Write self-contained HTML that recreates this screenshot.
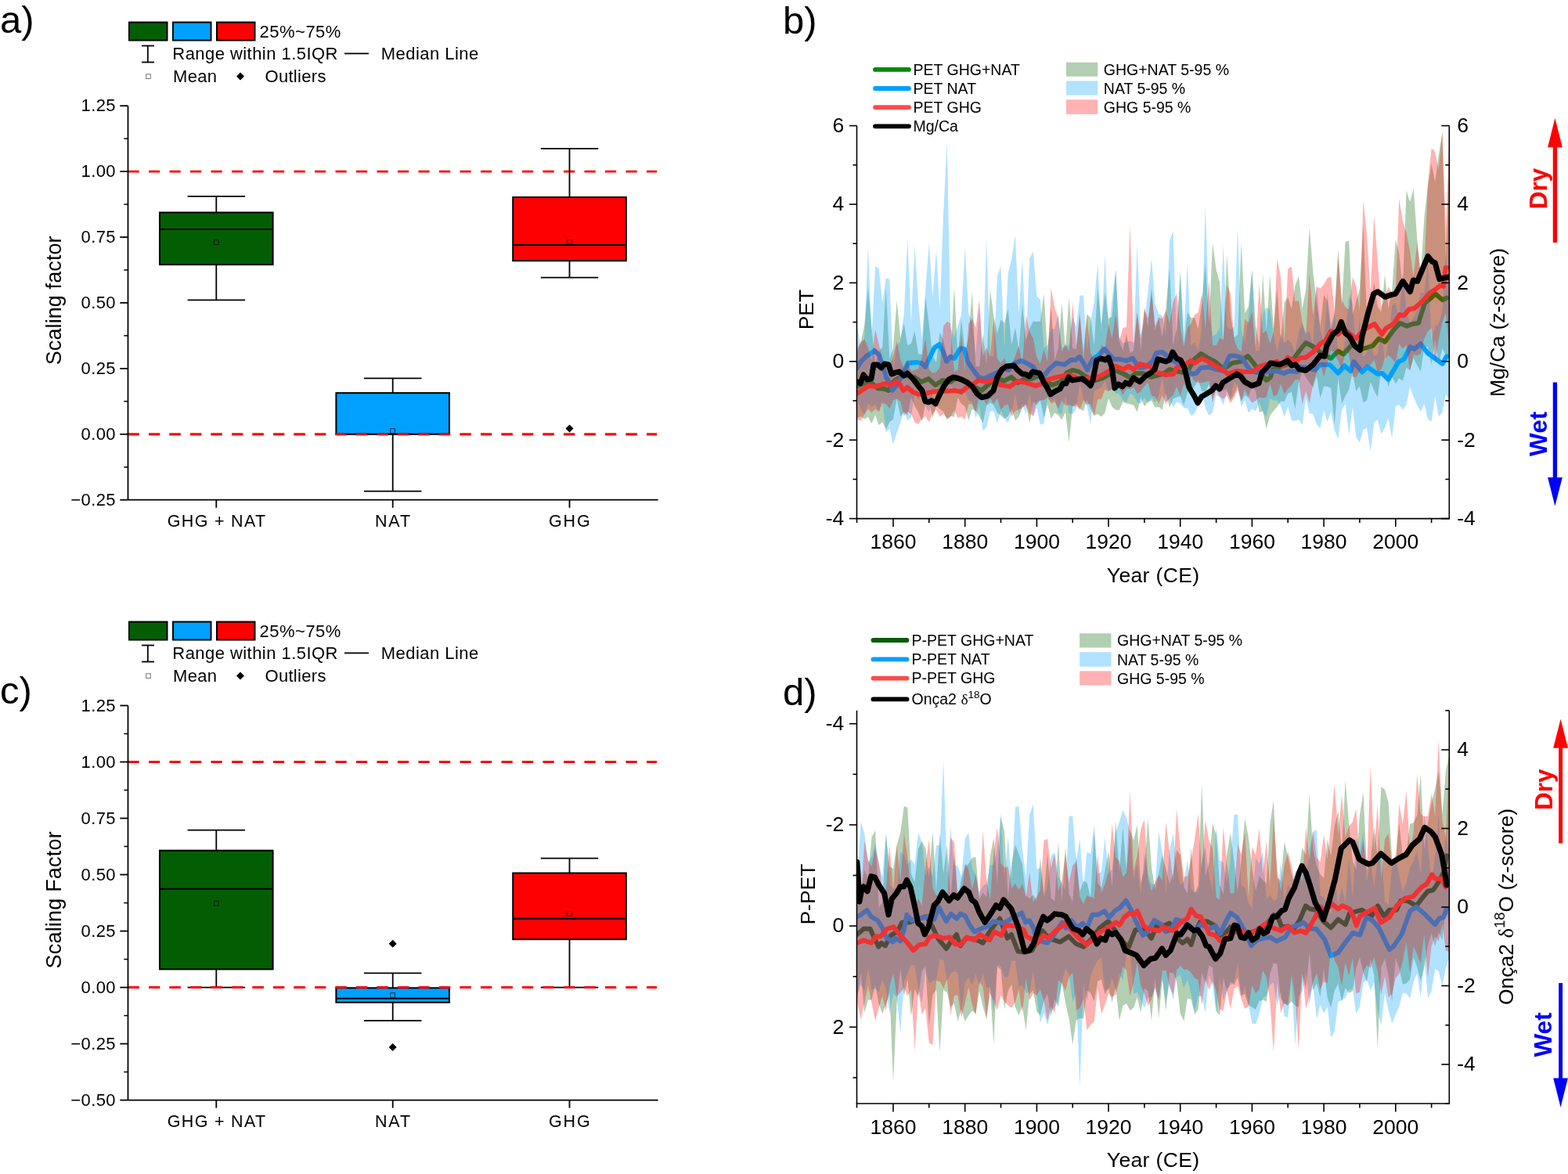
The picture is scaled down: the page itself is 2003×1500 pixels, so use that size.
<!DOCTYPE html>
<html><head><meta charset="utf-8"><title>Figure</title><style>html,body{margin:0;padding:0;background:#fff;width:2003px;height:1500px;overflow:hidden}</style></head><body>
<svg width="2003" height="1500" viewBox="0 0 2003 1500" style="position:absolute;left:0;top:0">
<g font-family='"Liberation Sans", Arial, Helvetica, sans-serif'>
<rect x="165" y="28.5" width="48.5" height="23" fill="#035e03" stroke="#000" stroke-width="2"/>
<rect x="221" y="28.5" width="48.5" height="23" fill="#00a0ff" stroke="#000" stroke-width="2"/>
<rect x="277" y="28.5" width="48.5" height="23" fill="#ff0000" stroke="#000" stroke-width="2"/>
<text x="331.5" y="47.6" font-size="22" text-anchor="start" font-weight="normal" fill="#000" letter-spacing="0.5" >25%~75%</text>
<line x1="188.8" y1="58.5" x2="188.8" y2="79.5" stroke="#000" stroke-width="1.8" />
<line x1="181.0" y1="58.5" x2="197.0" y2="58.5" stroke="#000" stroke-width="1.8" />
<line x1="181.0" y1="79.5" x2="197.0" y2="79.5" stroke="#000" stroke-width="1.8" />
<text x="220.3" y="76.0" font-size="22" text-anchor="start" font-weight="normal" fill="#000" letter-spacing="0.45" >Range within 1.5IQR</text>
<line x1="440.0" y1="68.4" x2="471.0" y2="68.4" stroke="#000" stroke-width="1.8" />
<text x="486.8" y="76.0" font-size="22" text-anchor="start" font-weight="normal" fill="#000" letter-spacing="0.45" >Median Line</text>
<rect x="186.7" y="94.8" width="5.6" height="5.6" fill="none" stroke="#666" stroke-width="0.9"/>
<path d="M307 92.5 L312 97.5 L307 102.5 L302 97.5 Z" fill="#000"/>
<text x="221.0" y="105.1" font-size="22" text-anchor="start" font-weight="normal" fill="#000" letter-spacing="0.3" >Mean</text>
<text x="338.5" y="105.1" font-size="22" text-anchor="start" font-weight="normal" fill="#000" letter-spacing="0.3" >Outliers</text>
<text x="0.0" y="42.0" font-size="49" text-anchor="start" font-weight="normal" fill="#000" >a)</text>
<line x1="163.5" y1="219.1" x2="839" y2="219.1" stroke="#ff0000" stroke-width="2.8" stroke-dasharray="14.2 12.3"/>
<line x1="163.5" y1="554.8" x2="839" y2="554.8" stroke="#ff0000" stroke-width="2.8" stroke-dasharray="14.2 12.3"/>
<line x1="276.3" y1="250.8" x2="276.3" y2="271.5" stroke="#000" stroke-width="1.8" />
<line x1="276.3" y1="338.1" x2="276.3" y2="383.3" stroke="#000" stroke-width="1.8" />
<line x1="239.6" y1="250.8" x2="313.1" y2="250.8" stroke="#000" stroke-width="1.8" />
<line x1="239.6" y1="383.3" x2="313.1" y2="383.3" stroke="#000" stroke-width="1.8" />
<rect x="204.0" y="271.5" width="144.6" height="66.6" fill="#035e03" stroke="#000" stroke-width="2"/>
<line x1="204.0" y1="293.0" x2="348.6" y2="293.0" stroke="#000" stroke-width="2" />
<rect x="273.4" y="306.8" width="5.8" height="5.8" fill="none" stroke="#101010" stroke-width="0.8"/>
<line x1="501.7" y1="483.3" x2="501.7" y2="502.1" stroke="#000" stroke-width="1.8" />
<line x1="501.7" y1="554.8" x2="501.7" y2="627.6" stroke="#000" stroke-width="1.8" />
<line x1="464.9" y1="483.3" x2="538.5" y2="483.3" stroke="#000" stroke-width="1.8" />
<line x1="464.9" y1="627.6" x2="538.5" y2="627.6" stroke="#000" stroke-width="1.8" />
<rect x="429.4" y="502.1" width="144.6" height="52.7" fill="#00a0ff" stroke="#000" stroke-width="2"/>
<line x1="429.4" y1="554.8" x2="574.0" y2="554.8" stroke="#000" stroke-width="2" />
<rect x="498.8" y="547.7" width="5.8" height="5.8" fill="none" stroke="#101010" stroke-width="0.8"/>
<line x1="727.5" y1="189.9" x2="727.5" y2="252.0" stroke="#000" stroke-width="1.8" />
<line x1="727.5" y1="333.2" x2="727.5" y2="354.7" stroke="#000" stroke-width="1.8" />
<line x1="690.8" y1="189.9" x2="764.2" y2="189.9" stroke="#000" stroke-width="1.8" />
<line x1="690.8" y1="354.7" x2="764.2" y2="354.7" stroke="#000" stroke-width="1.8" />
<rect x="655.2" y="252.0" width="144.6" height="81.2" fill="#ff0000" stroke="#000" stroke-width="2"/>
<line x1="655.2" y1="313.1" x2="799.8" y2="313.1" stroke="#000" stroke-width="2" />
<rect x="724.6" y="306.2" width="5.8" height="5.8" fill="none" stroke="#101010" stroke-width="0.8"/>
<path d="M727.5 542.5 L732.5 547.5 L727.5 552.5 L722.5 547.5 Z" fill="#000"/>
<line x1="163.5" y1="554.8" x2="839" y2="554.8" stroke="#ff0000" stroke-width="2.8" stroke-dasharray="14.2 12.3"/>
<line x1="163.5" y1="135.2" x2="163.5" y2="638.7" stroke="#000" stroke-width="1.8" />
<line x1="163.5" y1="638.7" x2="840.6" y2="638.7" stroke="#000" stroke-width="1.8" />
<line x1="153.3" y1="135.2" x2="163.5" y2="135.2" stroke="#000" stroke-width="1.8" />
<text x="148.0" y="142.4" font-size="22" text-anchor="end" font-weight="normal" fill="#000" letter-spacing="0.4" >1.25</text>
<line x1="153.3" y1="219.1" x2="163.5" y2="219.1" stroke="#000" stroke-width="1.8" />
<text x="148.0" y="226.3" font-size="22" text-anchor="end" font-weight="normal" fill="#000" letter-spacing="0.4" >1.00</text>
<line x1="153.3" y1="303.0" x2="163.5" y2="303.0" stroke="#000" stroke-width="1.8" />
<text x="148.0" y="310.2" font-size="22" text-anchor="end" font-weight="normal" fill="#000" letter-spacing="0.4" >0.75</text>
<line x1="153.3" y1="386.9" x2="163.5" y2="386.9" stroke="#000" stroke-width="1.8" />
<text x="148.0" y="394.1" font-size="22" text-anchor="end" font-weight="normal" fill="#000" letter-spacing="0.4" >0.50</text>
<line x1="153.3" y1="470.9" x2="163.5" y2="470.9" stroke="#000" stroke-width="1.8" />
<text x="148.0" y="478.1" font-size="22" text-anchor="end" font-weight="normal" fill="#000" letter-spacing="0.4" >0.25</text>
<line x1="153.3" y1="554.8" x2="163.5" y2="554.8" stroke="#000" stroke-width="1.8" />
<text x="148.0" y="562.0" font-size="22" text-anchor="end" font-weight="normal" fill="#000" letter-spacing="0.4" >0.00</text>
<line x1="153.3" y1="638.7" x2="163.5" y2="638.7" stroke="#000" stroke-width="1.8" />
<text x="148.0" y="645.9" font-size="22" text-anchor="end" font-weight="normal" fill="#000" letter-spacing="0.4" >−0.25</text>
<line x1="158.3" y1="177.1" x2="163.5" y2="177.1" stroke="#000" stroke-width="1.5" />
<line x1="158.3" y1="261.1" x2="163.5" y2="261.1" stroke="#000" stroke-width="1.5" />
<line x1="158.3" y1="345.0" x2="163.5" y2="345.0" stroke="#000" stroke-width="1.5" />
<line x1="158.3" y1="428.9" x2="163.5" y2="428.9" stroke="#000" stroke-width="1.5" />
<line x1="158.3" y1="512.8" x2="163.5" y2="512.8" stroke="#000" stroke-width="1.5" />
<line x1="158.3" y1="596.8" x2="163.5" y2="596.8" stroke="#000" stroke-width="1.5" />
<line x1="276.3" y1="638.7" x2="276.3" y2="648.7" stroke="#000" stroke-width="1.8" />
<text x="277.1" y="672.7" font-size="21.5" text-anchor="middle" font-weight="normal" fill="#000" letter-spacing="1.3" >GHG + NAT</text>
<line x1="501.7" y1="638.7" x2="501.7" y2="648.7" stroke="#000" stroke-width="1.8" />
<text x="502.5" y="672.7" font-size="21.5" text-anchor="middle" font-weight="normal" fill="#000" letter-spacing="1.9" >NAT</text>
<line x1="727.5" y1="638.7" x2="727.5" y2="648.7" stroke="#000" stroke-width="1.8" />
<text x="728.3" y="672.7" font-size="21.5" text-anchor="middle" font-weight="normal" fill="#000" letter-spacing="1.9" >GHG</text>
<text transform="translate(78,383.8) rotate(-90)" x="0" y="0" font-size="27" text-anchor="middle" letter-spacing="0.1">Scaling factor</text>
<rect x="165" y="794.5" width="48.5" height="23" fill="#035e03" stroke="#000" stroke-width="2"/>
<rect x="221" y="794.5" width="48.5" height="23" fill="#00a0ff" stroke="#000" stroke-width="2"/>
<rect x="277" y="794.5" width="48.5" height="23" fill="#ff0000" stroke="#000" stroke-width="2"/>
<text x="331.5" y="813.6" font-size="22" text-anchor="start" font-weight="normal" fill="#000" letter-spacing="0.5" >25%~75%</text>
<line x1="188.8" y1="824.5" x2="188.8" y2="845.5" stroke="#000" stroke-width="1.8" />
<line x1="181.0" y1="824.5" x2="197.0" y2="824.5" stroke="#000" stroke-width="1.8" />
<line x1="181.0" y1="845.5" x2="197.0" y2="845.5" stroke="#000" stroke-width="1.8" />
<text x="220.3" y="842.0" font-size="22" text-anchor="start" font-weight="normal" fill="#000" letter-spacing="0.45" >Range within 1.5IQR</text>
<line x1="440.0" y1="834.4" x2="471.0" y2="834.4" stroke="#000" stroke-width="1.8" />
<text x="486.8" y="842.0" font-size="22" text-anchor="start" font-weight="normal" fill="#000" letter-spacing="0.45" >Median Line</text>
<rect x="186.7" y="860.8" width="5.6" height="5.6" fill="none" stroke="#666" stroke-width="0.9"/>
<path d="M307 858.5 L312 863.5 L307 868.5 L302 863.5 Z" fill="#000"/>
<text x="221.0" y="871.1" font-size="22" text-anchor="start" font-weight="normal" fill="#000" letter-spacing="0.3" >Mean</text>
<text x="338.5" y="871.1" font-size="22" text-anchor="start" font-weight="normal" fill="#000" letter-spacing="0.3" >Outliers</text>
<text x="0.0" y="899.0" font-size="49" text-anchor="start" font-weight="normal" fill="#000" >c)</text>
<line x1="163.5" y1="973.5" x2="839" y2="973.5" stroke="#ff0000" stroke-width="2.8" stroke-dasharray="14.2 12.3"/>
<line x1="163.5" y1="1261.6" x2="839" y2="1261.6" stroke="#ff0000" stroke-width="2.8" stroke-dasharray="14.2 12.3"/>
<line x1="276.3" y1="1060.7" x2="276.3" y2="1086.7" stroke="#000" stroke-width="1.8" />
<line x1="276.3" y1="1238.3" x2="276.3" y2="1261.6" stroke="#000" stroke-width="1.8" />
<line x1="239.6" y1="1060.7" x2="313.1" y2="1060.7" stroke="#000" stroke-width="1.8" />
<line x1="239.6" y1="1261.6" x2="313.1" y2="1261.6" stroke="#000" stroke-width="1.8" />
<rect x="204.0" y="1086.7" width="144.6" height="151.7" fill="#035e03" stroke="#000" stroke-width="2"/>
<line x1="204.0" y1="1135.8" x2="348.6" y2="1135.8" stroke="#000" stroke-width="2" />
<rect x="273.4" y="1151.2" width="5.8" height="5.8" fill="none" stroke="#101010" stroke-width="0.8"/>
<line x1="501.7" y1="1243.3" x2="501.7" y2="1262.3" stroke="#000" stroke-width="1.8" />
<line x1="501.7" y1="1280.8" x2="501.7" y2="1304.2" stroke="#000" stroke-width="1.8" />
<line x1="464.9" y1="1243.3" x2="538.5" y2="1243.3" stroke="#000" stroke-width="1.8" />
<line x1="464.9" y1="1304.2" x2="538.5" y2="1304.2" stroke="#000" stroke-width="1.8" />
<rect x="429.4" y="1262.3" width="144.6" height="18.5" fill="#00a0ff" stroke="#000" stroke-width="2"/>
<line x1="429.4" y1="1275.7" x2="574.0" y2="1275.7" stroke="#000" stroke-width="2" />
<rect x="498.8" y="1268.7" width="5.8" height="5.8" fill="none" stroke="#101010" stroke-width="0.8"/>
<line x1="727.5" y1="1096.7" x2="727.5" y2="1115.5" stroke="#000" stroke-width="1.8" />
<line x1="727.5" y1="1200.2" x2="727.5" y2="1261.6" stroke="#000" stroke-width="1.8" />
<line x1="690.8" y1="1096.7" x2="764.2" y2="1096.7" stroke="#000" stroke-width="1.8" />
<line x1="690.8" y1="1261.6" x2="764.2" y2="1261.6" stroke="#000" stroke-width="1.8" />
<rect x="655.2" y="1115.5" width="144.6" height="84.7" fill="#ff0000" stroke="#000" stroke-width="2"/>
<line x1="655.2" y1="1173.8" x2="799.8" y2="1173.8" stroke="#000" stroke-width="2" />
<rect x="724.6" y="1164.7" width="5.8" height="5.8" fill="none" stroke="#101010" stroke-width="0.8"/>
<path d="M501.7 1200.8 L506.7 1205.8 L501.7 1210.8 L496.7 1205.8 Z" fill="#000"/>
<path d="M501.7 1332.9 L506.7 1337.9 L501.7 1342.9 L496.7 1337.9 Z" fill="#000"/>
<line x1="163.5" y1="1261.6" x2="839" y2="1261.6" stroke="#ff0000" stroke-width="2.8" stroke-dasharray="14.2 12.3"/>
<line x1="163.5" y1="901.5" x2="163.5" y2="1405.6" stroke="#000" stroke-width="1.8" />
<line x1="163.5" y1="1405.6" x2="840.6" y2="1405.6" stroke="#000" stroke-width="1.8" />
<line x1="153.3" y1="901.5" x2="163.5" y2="901.5" stroke="#000" stroke-width="1.8" />
<text x="148.0" y="908.7" font-size="22" text-anchor="end" font-weight="normal" fill="#000" letter-spacing="0.4" >1.25</text>
<line x1="153.3" y1="973.5" x2="163.5" y2="973.5" stroke="#000" stroke-width="1.8" />
<text x="148.0" y="980.7" font-size="22" text-anchor="end" font-weight="normal" fill="#000" letter-spacing="0.4" >1.00</text>
<line x1="153.3" y1="1045.5" x2="163.5" y2="1045.5" stroke="#000" stroke-width="1.8" />
<text x="148.0" y="1052.7" font-size="22" text-anchor="end" font-weight="normal" fill="#000" letter-spacing="0.4" >0.75</text>
<line x1="153.3" y1="1117.5" x2="163.5" y2="1117.5" stroke="#000" stroke-width="1.8" />
<text x="148.0" y="1124.8" font-size="22" text-anchor="end" font-weight="normal" fill="#000" letter-spacing="0.4" >0.50</text>
<line x1="153.3" y1="1189.6" x2="163.5" y2="1189.6" stroke="#000" stroke-width="1.8" />
<text x="148.0" y="1196.8" font-size="22" text-anchor="end" font-weight="normal" fill="#000" letter-spacing="0.4" >0.25</text>
<line x1="153.3" y1="1261.6" x2="163.5" y2="1261.6" stroke="#000" stroke-width="1.8" />
<text x="148.0" y="1268.8" font-size="22" text-anchor="end" font-weight="normal" fill="#000" letter-spacing="0.4" >0.00</text>
<line x1="153.3" y1="1333.6" x2="163.5" y2="1333.6" stroke="#000" stroke-width="1.8" />
<text x="148.0" y="1340.8" font-size="22" text-anchor="end" font-weight="normal" fill="#000" letter-spacing="0.4" >−0.25</text>
<line x1="153.3" y1="1405.6" x2="163.5" y2="1405.6" stroke="#000" stroke-width="1.8" />
<text x="148.0" y="1412.8" font-size="22" text-anchor="end" font-weight="normal" fill="#000" letter-spacing="0.4" >−0.50</text>
<line x1="158.3" y1="937.5" x2="163.5" y2="937.5" stroke="#000" stroke-width="1.5" />
<line x1="158.3" y1="1009.5" x2="163.5" y2="1009.5" stroke="#000" stroke-width="1.5" />
<line x1="158.3" y1="1081.5" x2="163.5" y2="1081.5" stroke="#000" stroke-width="1.5" />
<line x1="158.3" y1="1153.6" x2="163.5" y2="1153.6" stroke="#000" stroke-width="1.5" />
<line x1="158.3" y1="1225.6" x2="163.5" y2="1225.6" stroke="#000" stroke-width="1.5" />
<line x1="158.3" y1="1297.6" x2="163.5" y2="1297.6" stroke="#000" stroke-width="1.5" />
<line x1="158.3" y1="1369.6" x2="163.5" y2="1369.6" stroke="#000" stroke-width="1.5" />
<line x1="276.3" y1="1405.6" x2="276.3" y2="1415.6" stroke="#000" stroke-width="1.8" />
<text x="277.1" y="1439.6" font-size="21.5" text-anchor="middle" font-weight="normal" fill="#000" letter-spacing="1.3" >GHG + NAT</text>
<line x1="501.7" y1="1405.6" x2="501.7" y2="1415.6" stroke="#000" stroke-width="1.8" />
<text x="502.5" y="1439.6" font-size="21.5" text-anchor="middle" font-weight="normal" fill="#000" letter-spacing="1.9" >NAT</text>
<line x1="727.5" y1="1405.6" x2="727.5" y2="1415.6" stroke="#000" stroke-width="1.8" />
<text x="728.3" y="1439.6" font-size="21.5" text-anchor="middle" font-weight="normal" fill="#000" letter-spacing="1.9" >GHG</text>
<text transform="translate(78,1149.8) rotate(-90)" x="0" y="0" font-size="27" text-anchor="middle" letter-spacing="0.2">Scaling Factor</text>
<clipPath id="cb"><rect x="1094.5" y="160.6" width="756.8" height="502.0"/></clipPath>
<g clip-path="url(#cb)">
<polygon points="1095.2,445.0 1099.7,437.3 1104.3,415.1 1108.9,366.6 1113.5,417.9 1118.1,465.2 1122.7,448.5 1127.2,443.4 1131.8,368.6 1136.4,458.6 1141.0,444.6 1145.6,384.0 1150.2,431.8 1154.8,413.1 1159.3,441.2 1163.9,439.0 1168.5,423.0 1173.1,452.3 1177.7,452.7 1182.3,378.9 1186.8,415.5 1191.4,454.5 1196.0,463.2 1200.6,424.2 1205.2,435.1 1209.8,457.2 1214.3,456.6 1218.9,366.5 1223.5,453.7 1228.1,407.2 1232.7,450.7 1237.3,430.8 1241.8,372.0 1246.4,467.9 1251.0,468.6 1255.6,427.0 1260.2,466.0 1264.8,369.3 1269.4,404.1 1273.9,425.9 1278.5,408.6 1283.1,412.4 1287.7,394.7 1292.3,440.5 1296.9,418.4 1301.4,446.1 1306.0,389.0 1310.6,434.6 1315.2,419.7 1319.8,410.5 1324.4,411.0 1328.9,410.5 1333.5,375.3 1338.1,451.4 1342.7,391.9 1347.3,460.5 1351.9,444.4 1356.4,387.4 1361.0,445.4 1365.6,380.0 1370.2,445.2 1374.8,446.2 1379.4,404.4 1384.0,447.3 1388.5,401.6 1393.1,406.1 1397.7,441.3 1402.3,367.5 1406.9,415.1 1411.5,373.3 1416.0,406.7 1420.6,404.9 1425.2,344.4 1429.8,435.9 1434.4,447.9 1439.0,426.2 1443.5,450.8 1448.1,448.3 1452.7,397.9 1457.3,447.3 1461.9,392.6 1466.5,417.8 1471.0,366.2 1475.6,422.0 1480.2,406.5 1484.8,431.2 1489.4,394.2 1494.0,342.6 1498.6,441.6 1503.1,419.2 1507.7,350.0 1512.3,438.7 1516.9,399.3 1521.5,406.0 1526.1,406.0 1530.6,420.6 1535.2,388.6 1539.8,335.0 1544.4,414.4 1549.0,310.6 1553.6,344.4 1558.1,360.7 1562.7,436.5 1567.3,324.9 1571.9,403.0 1576.5,430.9 1581.1,427.7 1585.6,309.7 1590.2,400.1 1594.8,392.0 1599.4,344.6 1604.0,416.0 1608.6,442.3 1613.2,350.0 1617.7,423.0 1622.3,351.4 1626.9,419.7 1631.5,367.7 1636.1,435.5 1640.7,386.0 1645.2,380.1 1649.8,394.9 1654.4,365.1 1659.0,352.2 1663.6,394.4 1668.2,369.7 1672.7,289.9 1677.3,346.8 1681.9,387.1 1686.5,416.7 1691.1,376.7 1695.7,384.5 1700.2,423.1 1704.8,401.6 1709.4,318.0 1714.0,390.4 1718.6,308.9 1723.2,307.7 1727.8,402.4 1732.3,385.1 1736.9,369.1 1741.5,287.6 1746.1,408.3 1750.7,392.1 1755.3,360.6 1759.8,391.6 1764.4,399.0 1769.0,350.9 1773.6,394.3 1778.2,370.5 1782.8,305.6 1787.3,324.7 1791.9,368.2 1796.5,243.5 1801.1,258.0 1805.7,240.9 1810.3,305.8 1814.8,352.8 1819.4,277.1 1824.0,237.7 1828.6,209.0 1833.2,232.7 1837.8,198.1 1842.4,170.0 1846.9,330.7 1851.3,220.3 1851.3,453.8 1846.9,453.5 1842.4,444.9 1837.8,465.4 1833.2,433.1 1828.6,466.4 1824.0,443.1 1819.4,443.7 1814.8,474.5 1810.3,466.9 1805.7,457.4 1801.1,473.3 1796.5,469.4 1791.9,486.9 1787.3,483.3 1782.8,490.5 1778.2,481.0 1773.6,494.5 1769.0,477.0 1764.4,472.6 1759.8,507.5 1755.3,498.9 1750.7,487.7 1746.1,511.5 1741.5,514.2 1736.9,493.4 1732.3,499.8 1727.8,475.6 1723.2,497.8 1718.6,506.3 1714.0,515.7 1709.4,482.2 1704.8,542.9 1700.2,495.8 1695.7,494.1 1691.1,493.4 1686.5,508.6 1681.9,480.6 1677.3,495.3 1672.7,488.7 1668.2,482.2 1663.6,474.9 1659.0,488.9 1654.4,522.6 1649.8,500.7 1645.2,503.0 1640.7,513.0 1636.1,512.7 1631.5,519.8 1626.9,524.9 1622.3,531.0 1617.7,548.0 1613.2,525.2 1608.6,526.8 1604.0,499.8 1599.4,493.0 1594.8,507.4 1590.2,505.1 1585.6,512.9 1581.1,493.3 1576.5,504.0 1571.9,511.7 1567.3,497.0 1562.7,499.3 1558.1,495.5 1553.6,494.9 1549.0,508.7 1544.4,491.2 1539.8,499.9 1535.2,500.0 1530.6,485.0 1526.1,493.7 1521.5,497.8 1516.9,500.8 1512.3,518.0 1507.7,506.3 1503.1,507.5 1498.6,509.4 1494.0,521.2 1489.4,501.7 1484.8,523.6 1480.2,520.0 1475.6,520.4 1471.0,511.9 1466.5,513.1 1461.9,519.5 1457.3,507.5 1452.7,526.8 1448.1,517.8 1443.5,516.2 1439.0,515.4 1434.4,513.6 1429.8,524.0 1425.2,523.7 1420.6,519.8 1416.0,509.1 1411.5,527.4 1406.9,532.5 1402.3,529.1 1397.7,531.0 1393.1,522.5 1388.5,511.1 1384.0,525.3 1379.4,522.1 1374.8,515.5 1370.2,519.7 1365.6,565.0 1361.0,526.8 1356.4,536.6 1351.9,530.4 1347.3,527.4 1342.7,534.8 1338.1,517.0 1333.5,533.7 1328.9,511.6 1324.4,517.5 1319.8,513.2 1315.2,540.8 1310.6,515.5 1306.0,520.9 1301.4,532.4 1296.9,537.3 1292.3,522.3 1287.7,531.7 1283.1,535.0 1278.5,531.0 1273.9,527.2 1269.4,517.7 1264.8,514.4 1260.2,518.5 1255.6,540.5 1251.0,531.9 1246.4,524.9 1241.8,522.8 1237.3,536.9 1232.7,519.5 1228.1,516.0 1223.5,507.9 1218.9,532.8 1214.3,532.0 1209.8,535.9 1205.2,526.1 1200.6,522.8 1196.0,518.3 1191.4,534.0 1186.8,512.0 1182.3,515.9 1177.7,538.1 1173.1,527.1 1168.5,518.8 1163.9,508.3 1159.3,530.4 1154.8,526.4 1150.2,532.6 1145.6,509.4 1141.0,535.8 1136.4,539.1 1131.8,548.8 1127.2,538.9 1122.7,543.2 1118.1,530.0 1113.5,541.3 1108.9,532.5 1104.3,535.6 1099.7,531.9 1095.2,533.4" fill="#005f00" fill-opacity="0.3"/>
<polyline points="1095.0,493.9 1103.0,489.9 1113.0,488.9 1121.0,495.9 1130.0,496.9 1135.0,498.9 1142.0,486.9 1150.0,481.9 1160.0,479.9 1168.0,481.9 1177.0,487.9 1186.0,483.9 1195.0,491.9 1204.0,485.9 1214.0,487.9 1223.0,481.9 1235.0,487.9 1245.0,494.9 1254.0,498.9 1264.0,489.9 1272.0,481.9 1282.0,486.9 1292.0,481.9 1300.0,488.9 1308.0,484.9 1318.0,483.9 1327.0,479.9 1335.0,486.9 1344.0,491.9 1355.0,487.9 1363.0,475.9 1370.0,472.9 1378.0,474.9 1385.0,479.9 1393.0,483.9 1400.0,485.9 1409.0,482.9 1418.0,477.9 1425.0,472.9 1436.0,477.9 1444.0,482.9 1451.0,476.9 1460.0,476.9 1470.0,481.9 1478.0,479.9 1487.0,476.9 1494.0,471.9 1501.0,473.9 1510.0,475.9 1518.0,472.9 1525.0,459.9 1534.0,451.9 1542.0,456.9 1552.0,461.9 1560.0,468.9 1567.0,468.9 1574.0,463.9 1585.0,461.9 1594.0,454.9 1602.0,464.9 1610.0,476.9 1618.0,485.9 1623.0,481.9 1626.0,471.9 1635.0,468.9 1646.0,464.9 1653.0,457.9 1660.0,448.0 1668.0,438.0 1676.0,442.0 1686.7,450.0 1700.0,458.0 1709.3,448.7 1716.0,452.7 1726.7,440.7 1740.0,446.0 1753.3,442.0 1761.3,432.7 1769.3,436.7 1780.0,422.0 1788.0,412.7 1797.3,416.7 1804.0,414.0 1812.0,412.7 1820.0,387.3 1828.0,380.7 1833.3,375.3 1842.7,383.3 1848.0,380.7" fill="none" stroke="#008c00" stroke-width="6" stroke-linejoin="round" stroke-linecap="round"/>
<polygon points="1095.2,420.0 1099.7,441.9 1104.3,431.3 1108.9,314.8 1113.5,430.2 1118.1,340.0 1122.7,343.3 1127.2,386.9 1131.8,355.0 1136.4,357.1 1141.0,474.2 1145.6,441.1 1150.2,436.4 1154.8,400.7 1159.3,305.0 1163.9,411.3 1168.5,313.0 1173.1,386.5 1177.7,433.1 1182.3,368.9 1186.8,310.5 1191.4,379.7 1196.0,320.0 1200.6,394.2 1205.2,271.2 1209.8,180.0 1214.3,419.2 1218.9,431.2 1223.5,416.7 1228.1,401.3 1232.7,316.0 1237.3,400.5 1241.8,411.8 1246.4,453.2 1251.0,391.5 1255.6,454.9 1260.2,304.6 1264.8,454.3 1269.4,455.5 1273.9,353.2 1278.5,339.9 1283.1,445.1 1287.7,349.3 1292.3,331.0 1296.9,300.0 1301.4,401.0 1306.0,330.0 1310.6,442.7 1315.2,330.0 1319.8,321.4 1324.4,378.2 1328.9,382.8 1333.5,444.5 1338.1,441.1 1342.7,420.5 1347.3,420.1 1351.9,401.6 1356.4,444.4 1361.0,442.1 1365.6,440.6 1370.2,405.6 1374.8,417.4 1379.4,377.7 1384.0,377.3 1388.5,447.7 1393.1,411.1 1397.7,386.5 1402.3,336.0 1406.9,424.5 1411.5,325.6 1416.0,423.2 1420.6,381.8 1425.2,343.5 1429.8,430.0 1434.4,438.3 1439.0,437.2 1443.5,435.4 1448.1,438.3 1452.7,312.8 1457.3,427.6 1461.9,409.9 1466.5,371.7 1471.0,330.2 1475.6,388.3 1480.2,401.0 1484.8,403.2 1489.4,428.5 1494.0,308.0 1498.6,295.3 1503.1,439.8 1507.7,345.0 1512.3,425.4 1516.9,336.3 1521.5,441.8 1526.1,436.9 1530.6,448.1 1535.2,419.0 1539.8,262.3 1544.4,397.3 1549.0,429.6 1553.6,426.8 1558.1,419.5 1562.7,313.3 1567.3,417.7 1571.9,420.9 1576.5,417.4 1581.1,291.6 1585.6,421.9 1590.2,438.8 1594.8,405.0 1599.4,346.2 1604.0,448.5 1608.6,447.8 1613.2,400.7 1617.7,392.7 1622.3,395.4 1626.9,427.1 1631.5,449.1 1636.1,427.0 1640.7,438.7 1645.2,434.0 1649.8,438.5 1654.4,450.4 1659.0,424.3 1663.6,413.6 1668.2,425.7 1672.7,423.6 1677.3,441.3 1681.9,363.6 1686.5,422.1 1691.1,436.3 1695.7,373.9 1700.2,415.4 1704.8,400.0 1709.4,451.0 1714.0,459.0 1718.6,431.6 1723.2,376.6 1727.8,387.8 1732.3,443.7 1736.9,406.4 1741.5,456.3 1746.1,450.0 1750.7,436.7 1755.3,454.7 1759.8,452.7 1764.4,419.8 1769.0,463.0 1773.6,437.0 1778.2,390.3 1782.8,387.2 1787.3,408.4 1791.9,349.1 1796.5,396.0 1801.1,413.6 1805.7,405.7 1810.3,396.2 1814.8,373.3 1819.4,374.9 1824.0,332.5 1828.6,434.6 1833.2,417.6 1837.8,413.7 1842.4,396.9 1846.9,322.1 1851.3,375.8 1851.3,510.9 1846.9,503.6 1842.4,527.0 1837.8,532.3 1833.2,506.0 1828.6,539.1 1824.0,536.1 1819.4,516.1 1814.8,525.7 1810.3,517.5 1805.7,506.9 1801.1,494.3 1796.5,517.2 1791.9,523.8 1787.3,517.3 1782.8,518.9 1778.2,560.3 1773.6,534.4 1769.0,546.4 1764.4,554.6 1759.8,536.1 1755.3,540.1 1750.7,577.0 1746.1,547.1 1741.5,549.0 1736.9,565.6 1732.3,558.2 1727.8,520.2 1723.2,555.6 1718.6,516.0 1714.0,524.3 1709.4,560.8 1704.8,549.8 1700.2,525.9 1695.7,539.0 1691.1,524.2 1686.5,547.1 1681.9,542.2 1677.3,529.0 1672.7,528.2 1668.2,509.0 1663.6,542.9 1659.0,536.0 1654.4,537.4 1649.8,537.5 1645.2,519.3 1640.7,532.9 1636.1,518.7 1631.5,512.1 1626.9,511.5 1622.3,508.9 1617.7,532.4 1613.2,526.2 1608.6,513.8 1604.0,525.4 1599.4,522.3 1594.8,527.6 1590.2,511.0 1585.6,520.0 1581.1,493.0 1576.5,487.2 1571.9,508.7 1567.3,500.5 1562.7,517.5 1558.1,507.3 1553.6,504.8 1549.0,527.0 1544.4,530.7 1539.8,522.1 1535.2,501.7 1530.6,518.3 1526.1,528.1 1521.5,531.1 1516.9,521.7 1512.3,521.3 1507.7,515.4 1503.1,513.4 1498.6,520.6 1494.0,509.8 1489.4,513.2 1484.8,481.5 1480.2,504.7 1475.6,514.5 1471.0,508.0 1466.5,515.7 1461.9,507.9 1457.3,515.9 1452.7,513.9 1448.1,505.0 1443.5,502.4 1439.0,514.4 1434.4,511.0 1429.8,503.8 1425.2,502.4 1420.6,495.7 1416.0,500.8 1411.5,486.5 1406.9,495.1 1402.3,497.2 1397.7,499.4 1393.1,542.2 1388.5,519.1 1384.0,509.6 1379.4,489.9 1374.8,522.4 1370.2,529.3 1365.6,527.8 1361.0,505.3 1356.4,530.1 1351.9,526.9 1347.3,509.9 1342.7,513.3 1338.1,507.6 1333.5,541.5 1328.9,542.7 1324.4,520.9 1319.8,533.2 1315.2,502.2 1310.6,529.8 1306.0,515.3 1301.4,529.2 1296.9,502.2 1292.3,528.1 1287.7,540.4 1283.1,533.9 1278.5,524.8 1273.9,541.1 1269.4,524.9 1264.8,525.7 1260.2,546.2 1255.6,550.6 1251.0,517.8 1246.4,534.8 1241.8,513.4 1237.3,511.4 1232.7,501.0 1228.1,505.8 1223.5,494.6 1218.9,499.8 1214.3,491.6 1209.8,501.4 1205.2,485.3 1200.6,504.3 1196.0,494.4 1191.4,502.8 1186.8,527.0 1182.3,519.0 1177.7,500.5 1173.1,511.0 1168.5,501.4 1163.9,533.1 1159.3,537.5 1154.8,525.6 1150.2,540.5 1145.6,552.4 1141.0,567.8 1136.4,548.0 1131.8,552.8 1127.2,510.9 1122.7,525.5 1118.1,516.8 1113.5,519.9 1108.9,515.5 1104.3,530.0 1099.7,523.0 1095.2,510.8" fill="#00a0ff" fill-opacity="0.3"/>
<polyline points="1095.0,469.9 1100.0,461.9 1107.0,454.9 1112.0,451.9 1117.0,447.9 1123.0,453.9 1128.0,467.9 1132.0,481.9 1137.0,489.9 1140.0,498.9 1146.0,491.9 1151.0,481.9 1156.0,471.9 1160.0,463.9 1170.0,462.9 1177.0,463.9 1182.0,468.9 1188.0,455.9 1194.0,443.9 1200.0,439.9 1205.0,449.9 1209.0,461.9 1214.0,455.9 1219.0,457.9 1227.0,444.9 1232.0,445.9 1236.0,461.9 1244.0,473.9 1250.0,481.9 1257.0,483.9 1265.0,479.9 1274.0,475.9 1283.0,470.9 1288.0,472.9 1296.0,463.9 1305.0,460.9 1313.0,464.9 1320.0,468.9 1325.0,477.9 1334.0,479.9 1340.0,471.9 1349.0,463.9 1360.0,465.9 1368.0,459.9 1374.0,459.9 1379.0,455.9 1384.0,463.9 1389.0,472.9 1396.0,458.9 1403.0,453.9 1411.0,445.9 1417.0,452.9 1423.0,458.9 1430.0,458.9 1439.0,460.9 1447.0,457.9 1455.0,469.9 1463.0,468.9 1472.0,461.9 1477.0,450.9 1485.0,449.9 1492.0,455.9 1500.0,461.9 1508.0,465.9 1515.0,473.9 1523.0,477.9 1528.0,476.9 1534.0,469.9 1544.0,468.9 1553.0,471.9 1562.0,473.9 1566.0,464.9 1571.0,454.4 1577.0,454.4 1586.0,456.9 1592.0,465.9 1597.0,472.9 1605.0,475.9 1615.0,475.9 1630.0,473.9 1640.0,476.9 1648.0,473.9 1657.0,474.9 1662.0,469.0 1669.3,470.0 1680.0,472.7 1686.7,466.0 1698.7,466.0 1709.3,476.7 1717.3,467.3 1725.3,474.0 1729.3,462.0 1740.0,475.3 1746.7,468.7 1760.0,478.0 1765.3,476.7 1773.3,484.7 1786.7,462.0 1793.3,459.3 1801.3,443.3 1806.7,446.0 1814.7,439.3 1824.0,451.3 1833.3,458.0 1842.7,464.7 1848.0,455.3" fill="none" stroke="#00a0ff" stroke-width="6" stroke-linejoin="round" stroke-linecap="round"/>
<polygon points="1095.2,448.4 1099.7,436.3 1104.3,433.4 1108.9,443.8 1113.5,460.6 1118.1,420.7 1122.7,439.5 1127.2,459.6 1131.8,464.2 1136.4,467.0 1141.0,455.2 1145.6,435.4 1150.2,459.1 1154.8,470.8 1159.3,459.7 1163.9,474.5 1168.5,472.7 1173.1,471.1 1177.7,456.6 1182.3,432.2 1186.8,471.8 1191.4,476.8 1196.0,475.3 1200.6,469.0 1205.2,416.2 1209.8,410.8 1214.3,413.3 1218.9,474.7 1223.5,472.8 1228.1,426.0 1232.7,473.5 1237.3,413.4 1241.8,406.7 1246.4,418.5 1251.0,382.0 1255.6,454.8 1260.2,443.9 1264.8,456.4 1269.4,408.1 1273.9,458.3 1278.5,463.7 1283.1,457.5 1287.7,470.5 1292.3,468.3 1296.9,454.9 1301.4,442.3 1306.0,464.9 1310.6,401.7 1315.2,423.7 1319.8,432.4 1324.4,456.8 1328.9,464.7 1333.5,446.6 1338.1,461.9 1342.7,367.4 1347.3,392.9 1351.9,406.9 1356.4,449.8 1361.0,439.3 1365.6,448.9 1370.2,386.0 1374.8,442.5 1379.4,398.0 1384.0,462.6 1388.5,403.8 1393.1,451.0 1397.7,458.9 1402.3,458.5 1406.9,440.7 1411.5,444.5 1416.0,413.5 1420.6,432.4 1425.2,401.7 1429.8,435.0 1434.4,419.1 1439.0,417.6 1443.5,287.0 1448.1,441.5 1452.7,398.8 1457.3,432.3 1461.9,394.7 1466.5,406.8 1471.0,375.2 1475.6,416.5 1480.2,405.5 1484.8,407.3 1489.4,396.3 1494.0,413.5 1498.6,385.4 1503.1,374.4 1507.7,418.1 1512.3,442.7 1516.9,418.4 1521.5,413.4 1526.1,401.9 1530.6,399.3 1535.2,374.8 1539.8,419.8 1544.4,359.0 1549.0,441.0 1553.6,441.2 1558.1,432.1 1562.7,433.8 1567.3,364.5 1571.9,374.6 1576.5,433.9 1581.1,445.4 1585.6,449.4 1590.2,407.6 1594.8,412.8 1599.4,398.4 1604.0,445.0 1608.6,361.9 1613.2,425.7 1617.7,422.7 1622.3,439.1 1626.9,424.1 1631.5,330.0 1636.1,354.5 1640.7,436.6 1645.2,343.4 1649.8,340.4 1654.4,385.3 1659.0,384.3 1663.6,411.5 1668.2,429.0 1672.7,348.5 1677.3,402.9 1681.9,366.1 1686.5,368.4 1691.1,363.6 1695.7,355.0 1700.2,353.5 1704.8,397.9 1709.4,328.3 1714.0,383.3 1718.6,392.2 1723.2,395.8 1727.8,353.9 1732.3,365.5 1736.9,395.9 1741.5,256.0 1746.1,299.9 1750.7,372.6 1755.3,275.0 1759.8,333.3 1764.4,392.6 1769.0,381.0 1773.6,365.9 1778.2,374.8 1782.8,373.5 1787.3,254.1 1791.9,282.9 1796.5,297.0 1801.1,321.2 1805.7,353.2 1810.3,310.0 1814.8,347.9 1819.4,342.6 1824.0,235.1 1828.6,189.3 1833.2,194.0 1837.8,216.9 1842.4,166.3 1846.9,291.8 1851.3,177.1 1851.3,444.3 1846.9,399.5 1842.4,412.3 1837.8,434.1 1833.2,463.5 1828.6,419.6 1824.0,423.0 1819.4,433.0 1814.8,451.9 1810.3,454.2 1805.7,453.0 1801.1,474.1 1796.5,441.1 1791.9,445.7 1787.3,439.3 1782.8,463.5 1778.2,458.5 1773.6,453.8 1769.0,458.5 1764.4,471.9 1759.8,475.5 1755.3,459.4 1750.7,466.5 1746.1,466.7 1741.5,469.9 1736.9,473.9 1732.3,482.0 1727.8,481.6 1723.2,453.0 1718.6,448.3 1714.0,472.8 1709.4,461.0 1704.8,451.3 1700.2,447.4 1695.7,463.7 1691.1,481.5 1686.5,463.9 1681.9,476.2 1677.3,491.2 1672.7,515.4 1668.2,499.5 1663.6,516.6 1659.0,485.1 1654.4,485.4 1649.8,492.3 1645.2,496.9 1640.7,503.2 1636.1,490.8 1631.5,504.1 1626.9,506.2 1622.3,490.1 1617.7,507.2 1613.2,508.7 1608.6,507.8 1604.0,511.9 1599.4,514.9 1594.8,507.7 1590.2,497.1 1585.6,512.1 1581.1,498.2 1576.5,508.5 1571.9,515.2 1567.3,505.2 1562.7,509.7 1558.1,507.0 1553.6,498.0 1549.0,514.4 1544.4,486.8 1539.8,488.0 1535.2,489.2 1530.6,488.9 1526.1,487.5 1521.5,480.7 1516.9,497.6 1512.3,490.6 1507.7,505.3 1503.1,493.7 1498.6,505.0 1494.0,508.4 1489.4,516.8 1484.8,505.2 1480.2,515.7 1475.6,506.9 1471.0,505.4 1466.5,489.1 1461.9,493.4 1457.3,500.0 1452.7,503.2 1448.1,494.8 1443.5,497.1 1439.0,495.9 1434.4,504.7 1429.8,495.6 1425.2,490.2 1420.6,497.7 1416.0,499.4 1411.5,497.9 1406.9,509.7 1402.3,510.0 1397.7,531.9 1393.1,516.0 1388.5,516.7 1384.0,511.6 1379.4,523.4 1374.8,519.0 1370.2,518.7 1365.6,516.9 1361.0,518.3 1356.4,511.4 1351.9,521.9 1347.3,513.3 1342.7,515.4 1338.1,507.6 1333.5,511.1 1328.9,511.4 1324.4,514.1 1319.8,531.4 1315.2,529.1 1310.6,517.6 1306.0,520.7 1301.4,523.3 1296.9,525.6 1292.3,532.2 1287.7,516.4 1283.1,518.2 1278.5,523.7 1273.9,508.7 1269.4,516.1 1264.8,508.5 1260.2,516.8 1255.6,509.2 1251.0,505.9 1246.4,526.3 1241.8,516.3 1237.3,516.3 1232.7,536.1 1228.1,532.3 1223.5,534.1 1218.9,524.2 1214.3,532.0 1209.8,535.1 1205.2,528.4 1200.6,532.4 1196.0,523.4 1191.4,528.5 1186.8,539.5 1182.3,532.0 1177.7,535.6 1173.1,542.0 1168.5,539.7 1163.9,528.7 1159.3,526.0 1154.8,531.5 1150.2,512.9 1145.6,509.6 1141.0,511.6 1136.4,521.9 1131.8,516.2 1127.2,515.2 1122.7,526.4 1118.1,522.3 1113.5,527.2 1108.9,522.4 1104.3,528.9 1099.7,537.7 1095.2,535.5" fill="#ff0000" fill-opacity="0.3"/>
<polyline points="1095.0,502.8 1102.0,497.9 1110.0,492.9 1118.0,493.9 1125.0,491.9 1132.0,489.9 1138.0,491.9 1145.0,486.9 1150.0,491.9 1154.0,498.9 1159.0,494.9 1166.0,500.8 1173.0,503.8 1182.0,502.8 1190.0,500.8 1198.0,499.8 1210.0,499.8 1220.0,498.9 1228.0,500.8 1235.0,494.9 1242.0,491.9 1250.0,485.9 1260.0,487.9 1269.0,484.9 1278.0,491.9 1290.0,493.9 1300.0,486.9 1310.0,488.9 1323.0,492.9 1330.0,490.9 1336.0,485.9 1350.0,481.9 1364.0,478.9 1374.0,481.9 1383.0,485.9 1390.0,482.9 1400.0,482.9 1410.0,477.9 1417.0,473.9 1425.0,467.9 1435.0,471.9 1442.0,467.9 1448.0,471.9 1456.0,464.9 1463.0,466.9 1470.0,468.9 1478.0,475.9 1489.0,478.9 1499.0,477.9 1503.0,469.9 1512.0,466.9 1521.0,460.9 1526.0,463.9 1535.0,457.9 1545.0,462.9 1556.0,469.9 1563.0,472.9 1568.0,477.9 1580.0,473.9 1590.0,474.9 1600.0,474.9 1610.0,467.9 1620.0,464.9 1631.0,461.9 1638.0,467.9 1645.0,456.9 1655.0,461.9 1662.0,456.9 1668.0,456.7 1677.3,450.0 1686.7,439.3 1693.3,435.3 1700.0,423.3 1709.3,427.3 1717.3,420.7 1732.0,432.7 1742.7,420.7 1756.0,414.0 1765.3,427.3 1770.7,419.3 1780.0,414.0 1788.0,402.0 1793.3,403.3 1800.0,395.3 1806.7,394.0 1817.3,384.7 1826.7,374.0 1833.3,370.0 1840.0,364.7 1844.0,366.0 1846.7,342.0 1848.0,342.0" fill="none" stroke="#f03232" stroke-width="6" stroke-linejoin="round" stroke-linecap="round"/>
<polyline points="1095.0,487.9 1099.0,489.9 1103.0,478.9 1108.0,484.9 1113.0,483.9 1116.0,465.9 1121.0,465.9 1126.0,469.9 1130.0,464.9 1135.0,465.9 1139.0,477.9 1144.0,475.9 1149.0,474.9 1154.0,479.9 1159.0,476.9 1166.0,483.9 1173.0,492.9 1178.0,498.9 1182.0,512.8 1186.0,513.8 1190.0,511.8 1195.0,515.8 1200.0,504.8 1206.0,492.9 1212.0,484.9 1218.0,481.9 1228.0,484.9 1236.0,488.9 1242.0,493.9 1248.0,502.8 1254.0,507.8 1262.0,505.8 1269.0,498.9 1274.0,481.9 1280.0,471.9 1286.0,467.9 1295.0,466.9 1300.0,472.9 1306.0,477.9 1310.0,477.9 1315.0,480.9 1319.0,474.9 1328.0,476.9 1333.0,487.9 1338.0,495.9 1342.0,503.8 1348.0,499.8 1354.0,496.9 1358.0,489.9 1362.0,489.9 1365.0,481.9 1370.0,485.9 1376.0,484.9 1383.0,483.9 1388.0,487.9 1393.0,492.9 1396.0,485.9 1401.0,459.9 1406.0,457.9 1412.0,459.9 1416.0,456.9 1420.0,467.9 1424.0,495.9 1429.0,490.9 1434.0,493.9 1438.0,488.9 1443.0,490.9 1448.0,482.9 1456.0,487.9 1464.0,479.9 1471.0,475.9 1475.0,471.9 1479.0,458.9 1489.0,461.9 1494.0,459.9 1498.0,449.9 1503.0,457.9 1508.0,459.9 1513.0,469.9 1519.0,494.9 1526.0,506.8 1530.0,514.8 1535.0,506.8 1542.0,502.8 1548.0,498.9 1553.0,492.9 1558.0,496.9 1562.0,488.9 1570.0,483.9 1580.0,477.9 1585.0,480.9 1590.0,487.9 1599.0,492.9 1608.0,489.9 1612.0,475.9 1620.0,467.9 1623.0,463.9 1635.0,465.9 1645.0,460.9 1650.0,466.9 1655.0,465.9 1660.0,471.9 1668.0,473.3 1677.3,466.0 1686.7,454.0 1692.0,455.3 1694.7,442.0 1702.7,427.3 1709.3,422.0 1713.3,411.3 1718.7,426.0 1724.0,430.0 1730.7,442.0 1737.3,447.3 1740.0,430.0 1746.7,403.3 1754.7,375.3 1760.0,372.7 1769.3,379.3 1777.3,376.7 1782.7,375.3 1792.0,359.3 1801.3,372.7 1805.3,358.0 1810.7,359.3 1817.3,343.3 1824.0,327.3 1829.3,334.0 1833.3,336.0 1838.7,356.7 1846.7,354.7 1850.7,354.0" fill="none" stroke="#000" stroke-width="7" stroke-linejoin="round" stroke-linecap="round"/>
</g>
<line x1="1094.5" y1="160.6" x2="1094.5" y2="662.6" stroke="#000" stroke-width="1.6" />
<line x1="1851.3" y1="160.6" x2="1851.3" y2="662.6" stroke="#000" stroke-width="1.6" />
<line x1="1093.7" y1="662.6" x2="1852.1" y2="662.6" stroke="#000" stroke-width="1.6" />
<line x1="1085.0" y1="160.6" x2="1094.5" y2="160.6" stroke="#000" stroke-width="1.6" />
<text x="1078.3" y="168.9" font-size="26.5" text-anchor="end" font-weight="normal" fill="#000" >6</text>
<line x1="1085.0" y1="261.0" x2="1094.5" y2="261.0" stroke="#000" stroke-width="1.6" />
<text x="1078.3" y="269.3" font-size="26.5" text-anchor="end" font-weight="normal" fill="#000" >4</text>
<line x1="1085.0" y1="361.4" x2="1094.5" y2="361.4" stroke="#000" stroke-width="1.6" />
<text x="1078.3" y="369.7" font-size="26.5" text-anchor="end" font-weight="normal" fill="#000" >2</text>
<line x1="1085.0" y1="461.8" x2="1094.5" y2="461.8" stroke="#000" stroke-width="1.6" />
<text x="1078.3" y="470.1" font-size="26.5" text-anchor="end" font-weight="normal" fill="#000" >0</text>
<line x1="1085.0" y1="562.2" x2="1094.5" y2="562.2" stroke="#000" stroke-width="1.6" />
<text x="1078.3" y="570.5" font-size="26.5" text-anchor="end" font-weight="normal" fill="#000" >-2</text>
<line x1="1085.0" y1="662.6" x2="1094.5" y2="662.6" stroke="#000" stroke-width="1.6" />
<text x="1078.3" y="670.9" font-size="26.5" text-anchor="end" font-weight="normal" fill="#000" >-4</text>
<line x1="1089.5" y1="210.8" x2="1094.5" y2="210.8" stroke="#000" stroke-width="1.6" />
<line x1="1089.5" y1="311.2" x2="1094.5" y2="311.2" stroke="#000" stroke-width="1.6" />
<line x1="1089.5" y1="411.6" x2="1094.5" y2="411.6" stroke="#000" stroke-width="1.6" />
<line x1="1089.5" y1="512.0" x2="1094.5" y2="512.0" stroke="#000" stroke-width="1.6" />
<line x1="1089.5" y1="612.4" x2="1094.5" y2="612.4" stroke="#000" stroke-width="1.6" />
<line x1="1841.3" y1="160.6" x2="1851.3" y2="160.6" stroke="#000" stroke-width="1.6" />
<text x="1861.2" y="168.9" font-size="26.5" text-anchor="start" font-weight="normal" fill="#000" >6</text>
<line x1="1841.3" y1="261.0" x2="1851.3" y2="261.0" stroke="#000" stroke-width="1.6" />
<text x="1861.2" y="269.3" font-size="26.5" text-anchor="start" font-weight="normal" fill="#000" >4</text>
<line x1="1841.3" y1="361.4" x2="1851.3" y2="361.4" stroke="#000" stroke-width="1.6" />
<text x="1861.2" y="369.7" font-size="26.5" text-anchor="start" font-weight="normal" fill="#000" >2</text>
<line x1="1841.3" y1="461.8" x2="1851.3" y2="461.8" stroke="#000" stroke-width="1.6" />
<text x="1861.2" y="470.1" font-size="26.5" text-anchor="start" font-weight="normal" fill="#000" >0</text>
<line x1="1841.3" y1="562.2" x2="1851.3" y2="562.2" stroke="#000" stroke-width="1.6" />
<text x="1861.2" y="570.5" font-size="26.5" text-anchor="start" font-weight="normal" fill="#000" >-2</text>
<line x1="1841.3" y1="662.6" x2="1851.3" y2="662.6" stroke="#000" stroke-width="1.6" />
<text x="1861.2" y="670.9" font-size="26.5" text-anchor="start" font-weight="normal" fill="#000" >-4</text>
<line x1="1846.3" y1="210.8" x2="1851.3" y2="210.8" stroke="#000" stroke-width="1.6" />
<line x1="1846.3" y1="311.2" x2="1851.3" y2="311.2" stroke="#000" stroke-width="1.6" />
<line x1="1846.3" y1="411.6" x2="1851.3" y2="411.6" stroke="#000" stroke-width="1.6" />
<line x1="1846.3" y1="512.0" x2="1851.3" y2="512.0" stroke="#000" stroke-width="1.6" />
<line x1="1846.3" y1="612.4" x2="1851.3" y2="612.4" stroke="#000" stroke-width="1.6" />
<line x1="1141.0" y1="662.6" x2="1141.0" y2="673.1" stroke="#000" stroke-width="1.6" />
<text x="1141.0" y="701.2" font-size="26.5" text-anchor="middle" font-weight="normal" fill="#000" >1860</text>
<line x1="1232.7" y1="662.6" x2="1232.7" y2="673.1" stroke="#000" stroke-width="1.6" />
<text x="1232.7" y="701.2" font-size="26.5" text-anchor="middle" font-weight="normal" fill="#000" >1880</text>
<line x1="1324.4" y1="662.6" x2="1324.4" y2="673.1" stroke="#000" stroke-width="1.6" />
<text x="1324.4" y="701.2" font-size="26.5" text-anchor="middle" font-weight="normal" fill="#000" >1900</text>
<line x1="1416.0" y1="662.6" x2="1416.0" y2="673.1" stroke="#000" stroke-width="1.6" />
<text x="1416.0" y="701.2" font-size="26.5" text-anchor="middle" font-weight="normal" fill="#000" >1920</text>
<line x1="1507.7" y1="662.6" x2="1507.7" y2="673.1" stroke="#000" stroke-width="1.6" />
<text x="1507.7" y="701.2" font-size="26.5" text-anchor="middle" font-weight="normal" fill="#000" >1940</text>
<line x1="1599.4" y1="662.6" x2="1599.4" y2="673.1" stroke="#000" stroke-width="1.6" />
<text x="1599.4" y="701.2" font-size="26.5" text-anchor="middle" font-weight="normal" fill="#000" >1960</text>
<line x1="1691.1" y1="662.6" x2="1691.1" y2="673.1" stroke="#000" stroke-width="1.6" />
<text x="1691.1" y="701.2" font-size="26.5" text-anchor="middle" font-weight="normal" fill="#000" >1980</text>
<line x1="1782.8" y1="662.6" x2="1782.8" y2="673.1" stroke="#000" stroke-width="1.6" />
<text x="1782.8" y="701.2" font-size="26.5" text-anchor="middle" font-weight="normal" fill="#000" >2000</text>
<line x1="1094.5" y1="662.6" x2="1094.5" y2="668.1" stroke="#000" stroke-width="1.6" />
<line x1="1186.8" y1="662.6" x2="1186.8" y2="668.1" stroke="#000" stroke-width="1.6" />
<line x1="1278.5" y1="662.6" x2="1278.5" y2="668.1" stroke="#000" stroke-width="1.6" />
<line x1="1370.2" y1="662.6" x2="1370.2" y2="668.1" stroke="#000" stroke-width="1.6" />
<line x1="1461.9" y1="662.6" x2="1461.9" y2="668.1" stroke="#000" stroke-width="1.6" />
<line x1="1553.6" y1="662.6" x2="1553.6" y2="668.1" stroke="#000" stroke-width="1.6" />
<line x1="1645.2" y1="662.6" x2="1645.2" y2="668.1" stroke="#000" stroke-width="1.6" />
<line x1="1736.9" y1="662.6" x2="1736.9" y2="668.1" stroke="#000" stroke-width="1.6" />
<line x1="1828.6" y1="662.6" x2="1828.6" y2="668.1" stroke="#000" stroke-width="1.6" />
<text x="1473.1" y="743.9" font-size="26.5" text-anchor="middle" font-weight="normal" fill="#000" letter-spacing="0.35" >Year (CE)</text>
<text transform="translate(1039.2,395.6) rotate(-90)" font-size="26.5" text-anchor="middle">PET</text>
<text transform="translate(1921.5,412) rotate(-90)" font-size="26.5" text-anchor="middle">Mg/Ca (z-score)</text>
<text x="1000.0" y="43.3" font-size="49" text-anchor="start" font-weight="normal" fill="#000" >b)</text>
<line x1="1118" y1="88.9" x2="1161" y2="88.9" stroke="#008c00" stroke-width="5.8" stroke-linecap="round"/>
<text x="1166.5" y="95.9" font-size="19.5" text-anchor="start" font-weight="normal" fill="#000" >PET GHG+NAT</text>
<line x1="1118" y1="113" x2="1161" y2="113" stroke="#00a0ff" stroke-width="5.8" stroke-linecap="round"/>
<text x="1166.5" y="120.0" font-size="19.5" text-anchor="start" font-weight="normal" fill="#000" >PET NAT</text>
<line x1="1118" y1="137.1" x2="1161" y2="137.1" stroke="#ff4a4a" stroke-width="5.8" stroke-linecap="round"/>
<text x="1166.5" y="144.1" font-size="19.5" text-anchor="start" font-weight="normal" fill="#000" >PET GHG</text>
<line x1="1118" y1="161.3" x2="1161" y2="161.3" stroke="#000" stroke-width="5.8" stroke-linecap="round"/>
<text x="1166.5" y="168.3" font-size="19.5" text-anchor="start" font-weight="normal" fill="#000" >Mg/Ca</text>
<rect x="1362" y="79.7" width="40.299999999999955" height="18.0" fill="#005f00" fill-opacity="0.3"/>
<text x="1409.8" y="95.7" font-size="19.5" text-anchor="start" font-weight="normal" fill="#000" >GHG+NAT 5-95 %</text>
<rect x="1362" y="103.4" width="40.299999999999955" height="18.19999999999999" fill="#00a0ff" fill-opacity="0.3"/>
<text x="1409.8" y="119.5" font-size="19.5" text-anchor="start" font-weight="normal" fill="#000" >NAT 5-95 %</text>
<rect x="1362" y="127.3" width="40.299999999999955" height="18.60000000000001" fill="#ff0000" fill-opacity="0.3"/>
<text x="1409.8" y="143.6" font-size="19.5" text-anchor="start" font-weight="normal" fill="#000" >GHG 5-95 %</text>
<path d="M1977.1 188.3 L1986.4 150.8 L1995.8 188.3 Z" fill="#ff0000"/>
<rect x="1983.75" y="187.8" width="5.3" height="122.1" fill="#ff0000"/>
<text transform="translate(1975.9,241) rotate(-90)" font-size="31.5" font-weight="bold" fill="#ff0000" text-anchor="middle">Dry</text>
<rect x="1983.75" y="488.5" width="5.3" height="121.9" fill="#0000ff"/>
<path d="M1977.1 609.9 L1986.4 646.4 L1995.8 609.9 Z" fill="#0000ff"/>
<text transform="translate(1975.5,554.4) rotate(-90)" font-size="31.5" font-weight="bold" fill="#0000ff" text-anchor="middle">Wet</text>
<clipPath id="cd"><rect x="1094.5" y="907.7" width="756.8" height="502.29999999999995"/></clipPath>
<g clip-path="url(#cd)">
<polygon points="1095.2,1128.1 1099.7,1135.4 1104.3,1111.6 1108.9,1121.5 1113.5,1069.6 1118.1,1061.3 1122.7,1159.9 1127.2,1153.0 1131.8,1067.1 1136.4,1106.9 1141.0,1110.0 1145.6,1079.6 1150.2,1064.3 1154.8,1030.0 1159.3,1031.8 1163.9,1117.0 1168.5,1126.4 1173.1,1084.2 1177.7,1075.1 1182.3,1083.7 1186.8,1119.7 1191.4,1061.7 1196.0,1137.3 1200.6,1065.3 1205.2,1115.9 1209.8,1079.5 1214.3,1146.8 1218.9,1092.1 1223.5,1147.4 1228.1,1122.4 1232.7,1107.0 1237.3,1104.0 1241.8,1096.1 1246.4,1095.0 1251.0,1148.9 1255.6,1140.5 1260.2,1146.3 1264.8,1093.9 1269.4,1070.1 1273.9,1128.2 1278.5,1043.6 1283.1,1062.4 1287.7,1146.6 1292.3,1102.6 1296.9,1079.3 1301.4,1090.7 1306.0,1103.9 1310.6,1144.4 1315.2,1147.9 1319.8,1143.6 1324.4,1150.3 1328.9,1095.1 1333.5,1142.2 1338.1,1090.7 1342.7,1147.6 1347.3,1151.4 1351.9,1075.2 1356.4,1152.6 1361.0,1081.3 1365.6,1142.2 1370.2,1151.9 1374.8,1093.8 1379.4,1139.6 1384.0,1125.4 1388.5,1127.8 1393.1,1147.0 1397.7,1062.4 1402.3,1128.9 1406.9,1134.3 1411.5,1112.7 1416.0,1088.2 1420.6,1133.8 1425.2,1048.4 1429.8,1113.2 1434.4,1056.8 1439.0,1112.1 1443.5,1060.3 1448.1,1073.5 1452.7,1054.1 1457.3,1129.0 1461.9,1110.1 1466.5,1046.0 1471.0,1108.0 1475.6,1137.0 1480.2,1115.7 1484.8,1092.0 1489.4,1110.3 1494.0,1129.4 1498.6,1116.1 1503.1,1086.1 1507.7,1092.1 1512.3,1133.7 1516.9,1141.3 1521.5,1082.6 1526.1,1141.5 1530.6,1131.4 1535.2,1001.7 1539.8,1120.3 1544.4,1102.0 1549.0,1052.5 1553.6,1066.3 1558.1,1130.6 1562.7,1142.4 1567.3,1091.5 1571.9,1063.7 1576.5,1101.4 1581.1,1139.6 1585.6,1099.3 1590.2,1045.4 1594.8,1069.6 1599.4,1108.4 1604.0,1138.3 1608.6,1119.4 1613.2,1124.2 1617.7,1128.7 1622.3,1053.5 1626.9,1022.2 1631.5,1121.2 1636.1,1125.8 1640.7,1075.5 1645.2,1094.2 1649.8,1116.5 1654.4,1131.0 1659.0,1112.2 1663.6,1082.9 1668.2,1092.8 1672.7,1015.1 1677.3,1086.5 1681.9,1106.6 1686.5,1116.9 1691.1,1121.9 1695.7,1072.2 1700.2,1093.8 1704.8,1055.7 1709.4,1036.2 1714.0,1088.6 1718.6,996.8 1723.2,1052.4 1727.8,1099.6 1732.3,1111.8 1736.9,1041.6 1741.5,1012.1 1746.1,1110.7 1750.7,1099.3 1755.3,1056.2 1759.8,1094.0 1764.4,1005.3 1769.0,1008.7 1773.6,1024.8 1778.2,1096.4 1782.8,1100.1 1787.3,1051.3 1791.9,1095.6 1796.5,1092.8 1801.1,1052.7 1805.7,1050.9 1810.3,1041.6 1814.8,989.1 1819.4,1085.1 1824.0,1051.0 1828.6,1025.2 1833.2,1007.9 1837.8,985.0 1842.4,1041.0 1846.9,984.8 1851.3,964.8 1851.3,1186.3 1846.9,1156.3 1842.4,1201.5 1837.8,1190.8 1833.2,1209.2 1828.6,1191.6 1824.0,1208.2 1819.4,1236.2 1814.8,1253.2 1810.3,1235.4 1805.7,1223.8 1801.1,1251.2 1796.5,1256.3 1791.9,1257.7 1787.3,1236.9 1782.8,1223.9 1778.2,1280.2 1773.6,1246.0 1769.0,1225.0 1764.4,1235.6 1759.8,1340.0 1755.3,1246.1 1750.7,1225.2 1746.1,1254.6 1741.5,1243.2 1736.9,1222.7 1732.3,1237.4 1727.8,1266.3 1723.2,1268.9 1718.6,1262.1 1714.0,1279.8 1709.4,1257.3 1704.8,1265.5 1700.2,1287.5 1695.7,1274.9 1691.1,1238.1 1686.5,1274.2 1681.9,1256.2 1677.3,1265.8 1672.7,1217.5 1668.2,1264.4 1663.6,1244.8 1659.0,1286.5 1654.4,1285.1 1649.8,1279.5 1645.2,1283.9 1640.7,1282.4 1636.1,1275.7 1631.5,1231.5 1626.9,1230.4 1622.3,1243.7 1617.7,1279.7 1613.2,1277.5 1608.6,1279.0 1604.0,1289.9 1599.4,1286.8 1594.8,1284.3 1590.2,1270.0 1585.6,1271.9 1581.1,1249.0 1576.5,1258.4 1571.9,1254.3 1567.3,1267.0 1562.7,1249.0 1558.1,1297.3 1553.6,1291.9 1549.0,1236.4 1544.4,1233.6 1539.8,1256.2 1535.2,1242.8 1530.6,1289.7 1526.1,1296.3 1521.5,1276.7 1516.9,1275.8 1512.3,1304.7 1507.7,1294.8 1503.1,1253.3 1498.6,1243.1 1494.0,1243.1 1489.4,1291.6 1484.8,1251.3 1480.2,1300.7 1475.6,1249.4 1471.0,1304.0 1466.5,1266.5 1461.9,1262.7 1457.3,1294.3 1452.7,1273.9 1448.1,1287.7 1443.5,1291.0 1439.0,1282.3 1434.4,1285.1 1429.8,1304.0 1425.2,1261.1 1420.6,1280.7 1416.0,1261.9 1411.5,1270.5 1406.9,1251.5 1402.3,1253.5 1397.7,1279.1 1393.1,1268.8 1388.5,1265.2 1384.0,1301.4 1379.4,1300.8 1374.8,1303.8 1370.2,1335.0 1365.6,1301.4 1361.0,1281.0 1356.4,1256.6 1351.9,1286.5 1347.3,1276.5 1342.7,1298.8 1338.1,1269.5 1333.5,1278.7 1328.9,1297.5 1324.4,1292.4 1319.8,1265.2 1315.2,1270.3 1310.6,1316.5 1306.0,1285.6 1301.4,1297.3 1296.9,1286.7 1292.3,1257.7 1287.7,1266.1 1283.1,1289.4 1278.5,1239.1 1273.9,1234.7 1269.4,1335.0 1264.8,1261.2 1260.2,1302.6 1255.6,1286.3 1251.0,1266.4 1246.4,1295.0 1241.8,1291.5 1237.3,1297.6 1232.7,1305.0 1228.1,1289.4 1223.5,1304.9 1218.9,1282.2 1214.3,1286.6 1209.8,1268.0 1205.2,1264.4 1200.6,1345.0 1196.0,1264.0 1191.4,1271.0 1186.8,1310.8 1182.3,1234.9 1177.7,1240.5 1173.1,1273.6 1168.5,1263.4 1163.9,1298.9 1159.3,1250.9 1154.8,1273.2 1150.2,1237.6 1145.6,1281.7 1141.0,1383.0 1136.4,1268.8 1131.8,1283.3 1127.2,1294.9 1122.7,1283.1 1118.1,1259.1 1113.5,1277.7 1108.9,1277.6 1104.3,1294.3 1099.7,1243.4 1095.2,1276.0" fill="#005f00" fill-opacity="0.3"/>
<polyline points="1094.8,1194.0 1103.2,1186.8 1111.6,1186.8 1117.6,1200.0 1122.4,1209.6 1126.0,1204.8 1130.8,1208.4 1138.0,1195.2 1146.4,1190.4 1152.4,1178.4 1162.0,1178.4 1174.0,1173.6 1183.6,1171.2 1190.8,1183.2 1198.0,1198.8 1208.8,1212.0 1216.0,1201.2 1222.0,1194.0 1226.8,1208.4 1234.0,1198.8 1246.0,1200.0 1255.6,1204.8 1262.8,1192.8 1270.0,1182.0 1277.2,1173.6 1286.8,1198.8 1292.0,1194.0 1300.4,1215.6 1308.8,1216.8 1318.4,1214.4 1325.6,1200.0 1331.6,1189.2 1340.0,1198.8 1354.4,1203.6 1365.2,1196.4 1374.8,1206.0 1384.4,1209.6 1394.0,1200.0 1404.8,1185.6 1415.6,1177.2 1424.0,1188.0 1431.2,1201.2 1442.0,1209.6 1450.4,1188.0 1462.4,1188.0 1470.8,1198.8 1477.2,1183.2 1485.6,1183.2 1494.0,1179.6 1501.2,1188.0 1506.0,1201.2 1510.8,1204.8 1516.8,1200.0 1521.6,1207.2 1526.4,1191.6 1533.6,1177.2 1542.0,1177.2 1552.8,1183.2 1557.6,1195.2 1564.8,1192.8 1572.0,1184.4 1578.0,1188.0 1587.6,1195.2 1600.8,1190.4 1614.0,1186.8 1627.2,1168.8 1633.2,1173.6 1636.8,1183.2 1645.2,1184.4 1653.6,1185.6 1660.0,1176.0 1668.0,1157.3 1673.3,1161.3 1681.3,1162.7 1690.7,1177.3 1700.0,1185.3 1709.3,1174.7 1718.7,1181.3 1724.0,1166.7 1740.0,1162.7 1752.0,1170.7 1760.0,1157.3 1768.0,1170.7 1774.7,1162.7 1784.0,1162.7 1789.3,1150.7 1797.3,1150.7 1809.3,1157.3 1817.3,1146.7 1824.0,1138.7 1830.7,1137.3 1838.7,1125.3 1844.0,1114.7 1848.0,1093.3" fill="none" stroke="#0b5a0b" stroke-width="6" stroke-linejoin="round" stroke-linecap="round"/>
<polygon points="1095.2,1121.0 1099.7,1050.0 1104.3,1064.9 1108.9,1101.3 1113.5,1094.6 1118.1,1076.5 1122.7,1104.8 1127.2,1120.4 1131.8,1063.2 1136.4,1130.6 1141.0,1135.2 1145.6,1134.3 1150.2,1088.2 1154.8,1092.1 1159.3,1104.7 1163.9,1097.8 1168.5,1104.9 1173.1,1063.7 1177.7,1076.5 1182.3,1119.8 1186.8,1107.5 1191.4,1119.8 1196.0,1080.4 1200.6,1079.6 1205.2,971.0 1209.8,1123.6 1214.3,1057.8 1218.9,1105.8 1223.5,1106.4 1228.1,1120.0 1232.7,1071.8 1237.3,1063.8 1241.8,1109.3 1246.4,1117.8 1251.0,1140.1 1255.6,1131.9 1260.2,1128.9 1264.8,1105.9 1269.4,1104.6 1273.9,1084.6 1278.5,1039.0 1283.1,1125.6 1287.7,1067.8 1292.3,1125.1 1296.9,1031.2 1301.4,1030.0 1306.0,1084.8 1310.6,1120.5 1315.2,1040.7 1319.8,1027.3 1324.4,1110.3 1328.9,1108.9 1333.5,1146.8 1338.1,1131.9 1342.7,1092.8 1347.3,1089.5 1351.9,1120.0 1356.4,1128.6 1361.0,1137.7 1365.6,1042.9 1370.2,1042.3 1374.8,1101.6 1379.4,1070.9 1384.0,1134.2 1388.5,1088.4 1393.1,1091.0 1397.7,1054.1 1402.3,1116.4 1406.9,1113.8 1411.5,1070.2 1416.0,1117.2 1420.6,1110.2 1425.2,1063.6 1429.8,1050.4 1434.4,1035.3 1439.0,1045.0 1443.5,1063.0 1448.1,1124.0 1452.7,1103.7 1457.3,1142.8 1461.9,1090.0 1466.5,1116.8 1471.0,1129.5 1475.6,1129.8 1480.2,1062.6 1484.8,1089.1 1489.4,1140.7 1494.0,1086.8 1498.6,1065.2 1503.1,1105.7 1507.7,1130.4 1512.3,1126.6 1516.9,1098.8 1521.5,1135.7 1526.1,1140.0 1530.6,1139.7 1535.2,1102.0 1539.8,1081.8 1544.4,1119.3 1549.0,1138.3 1553.6,1057.6 1558.1,1099.0 1562.7,1102.1 1567.3,1128.5 1571.9,1098.2 1576.5,1040.9 1581.1,1040.5 1585.6,1131.2 1590.2,1133.7 1594.8,1154.0 1599.4,1160.8 1604.0,1096.6 1608.6,1103.6 1613.2,1087.3 1617.7,1149.0 1622.3,1143.4 1626.9,1150.9 1631.5,1148.6 1636.1,1101.8 1640.7,1152.4 1645.2,1130.8 1649.8,1135.3 1654.4,1113.2 1659.0,1112.3 1663.6,1108.8 1668.2,1126.6 1672.7,1085.1 1677.3,1063.1 1681.9,1060.1 1686.5,1143.5 1691.1,1146.3 1695.7,1156.0 1700.2,1169.4 1704.8,1116.3 1709.4,1158.2 1714.0,1132.3 1718.6,1154.4 1723.2,1095.7 1727.8,1146.3 1732.3,1069.7 1736.9,1086.2 1741.5,1062.2 1746.1,1126.6 1750.7,1097.9 1755.3,1132.4 1759.8,1097.7 1764.4,1083.0 1769.0,1151.3 1773.6,1156.2 1778.2,1108.2 1782.8,1090.4 1787.3,1117.7 1791.9,1139.6 1796.5,1127.1 1801.1,1108.4 1805.7,1100.1 1810.3,1087.1 1814.8,1117.1 1819.4,1040.6 1824.0,1080.1 1828.6,1128.0 1833.2,1092.9 1837.8,1040.8 1842.4,1124.5 1846.9,1059.6 1851.3,1103.4 1851.3,1223.5 1846.9,1236.8 1842.4,1259.9 1837.8,1240.7 1833.2,1238.1 1828.6,1266.4 1824.0,1275.5 1819.4,1223.9 1814.8,1274.8 1810.3,1243.3 1805.7,1254.4 1801.1,1275.8 1796.5,1269.2 1791.9,1268.8 1787.3,1286.6 1782.8,1296.2 1778.2,1307.4 1773.6,1291.1 1769.0,1268.3 1764.4,1310.5 1759.8,1292.1 1755.3,1255.1 1750.7,1265.8 1746.1,1251.6 1741.5,1255.9 1736.9,1286.9 1732.3,1295.3 1727.8,1262.7 1723.2,1264.8 1718.6,1274.8 1714.0,1277.8 1709.4,1280.3 1704.8,1318.1 1700.2,1325.8 1695.7,1286.5 1691.1,1294.8 1686.5,1283.8 1681.9,1302.2 1677.3,1257.9 1672.7,1283.0 1668.2,1240.5 1663.6,1266.5 1659.0,1272.5 1654.4,1335.5 1649.8,1254.0 1645.2,1299.8 1640.7,1298.5 1636.1,1266.7 1631.5,1284.9 1626.9,1255.2 1622.3,1258.5 1617.7,1272.2 1613.2,1274.4 1608.6,1296.1 1604.0,1308.6 1599.4,1307.5 1594.8,1283.2 1590.2,1259.0 1585.6,1275.2 1581.1,1229.4 1576.5,1254.4 1571.9,1258.6 1567.3,1263.8 1562.7,1278.6 1558.1,1248.2 1553.6,1293.1 1549.0,1258.2 1544.4,1246.3 1539.8,1293.9 1535.2,1272.9 1530.6,1272.8 1526.1,1291.5 1521.5,1269.5 1516.9,1251.2 1512.3,1262.2 1507.7,1245.6 1503.1,1248.8 1498.6,1278.4 1494.0,1257.2 1489.4,1279.0 1484.8,1249.9 1480.2,1276.5 1475.6,1262.2 1471.0,1273.7 1466.5,1274.5 1461.9,1288.1 1457.3,1277.9 1452.7,1267.7 1448.1,1269.8 1443.5,1216.4 1439.0,1220.0 1434.4,1252.2 1429.8,1244.6 1425.2,1266.2 1420.6,1248.9 1416.0,1264.5 1411.5,1264.8 1406.9,1223.2 1402.3,1226.8 1397.7,1235.4 1393.1,1246.8 1388.5,1278.7 1384.0,1256.9 1379.4,1390.0 1374.8,1267.6 1370.2,1280.5 1365.6,1245.1 1361.0,1236.8 1356.4,1256.0 1351.9,1277.6 1347.3,1287.4 1342.7,1291.5 1338.1,1309.5 1333.5,1293.9 1328.9,1306.8 1324.4,1273.3 1319.8,1240.9 1315.2,1266.8 1310.6,1268.7 1306.0,1258.7 1301.4,1260.9 1296.9,1227.2 1292.3,1227.4 1287.7,1248.2 1283.1,1248.7 1278.5,1234.4 1273.9,1232.5 1269.4,1294.4 1264.8,1260.9 1260.2,1262.5 1255.6,1243.6 1251.0,1260.2 1246.4,1244.4 1241.8,1259.3 1237.3,1248.8 1232.7,1255.5 1228.1,1293.0 1223.5,1243.1 1218.9,1240.7 1214.3,1244.1 1209.8,1253.4 1205.2,1227.0 1200.6,1225.5 1196.0,1252.3 1191.4,1252.9 1186.8,1256.3 1182.3,1239.4 1177.7,1281.4 1173.1,1262.7 1168.5,1234.1 1163.9,1231.9 1159.3,1243.9 1154.8,1253.9 1150.2,1320.0 1145.6,1274.6 1141.0,1268.6 1136.4,1295.4 1131.8,1263.4 1127.2,1251.6 1122.7,1267.8 1118.1,1263.4 1113.5,1264.3 1108.9,1236.2 1104.3,1266.0 1099.7,1257.9 1095.2,1271.0" fill="#00a0ff" fill-opacity="0.3"/>
<polyline points="1094.8,1171.2 1099.6,1168.8 1107.4,1162.8 1112.8,1171.2 1121.2,1176.0 1127.2,1185.6 1132.0,1197.6 1140.4,1203.6 1144.0,1198.8 1150.0,1202.4 1154.8,1188.0 1158.4,1168.8 1164.4,1176.0 1174.0,1173.6 1186.0,1171.2 1193.2,1174.8 1199.2,1159.2 1208.8,1177.2 1214.8,1167.6 1222.0,1173.6 1226.8,1167.6 1232.8,1170.0 1238.8,1182.0 1244.8,1190.4 1253.2,1186.8 1262.8,1183.2 1268.8,1177.2 1282.0,1179.6 1292.0,1173.6 1305.2,1166.4 1310.0,1178.4 1314.8,1176.0 1319.6,1184.4 1325.6,1201.2 1337.6,1204.8 1346.0,1195.2 1356.8,1178.4 1361.6,1185.6 1368.8,1176.0 1376.0,1185.6 1383.2,1179.6 1388.0,1186.8 1395.2,1168.8 1402.4,1168.8 1410.8,1164.0 1416.8,1172.4 1424.0,1164.0 1431.2,1159.2 1438.4,1150.8 1444.4,1161.6 1451.6,1178.4 1460.0,1195.2 1466.0,1190.4 1474.4,1176.0 1483.2,1180.8 1489.2,1190.4 1496.4,1188.0 1502.4,1174.8 1510.8,1177.2 1520.4,1183.2 1527.6,1190.4 1533.6,1180.8 1544.4,1186.8 1552.8,1183.2 1558.8,1192.8 1566.0,1177.2 1572.0,1166.4 1580.4,1172.4 1590.0,1189.2 1598.4,1208.4 1605.6,1201.2 1614.0,1198.8 1622.4,1197.6 1630.8,1202.4 1641.6,1197.6 1650.0,1184.4 1658.4,1182.0 1665.3,1178.7 1673.3,1186.7 1681.3,1186.7 1692.0,1200.0 1700.0,1221.3 1709.3,1217.3 1718.7,1204.0 1728.0,1192.0 1737.3,1194.7 1745.3,1172.0 1753.3,1176.0 1761.3,1185.3 1774.7,1213.3 1780.0,1209.3 1790.7,1193.3 1801.3,1164.0 1809.3,1158.7 1820.0,1168.0 1833.3,1181.3 1838.7,1173.3 1844.0,1172.0 1848.0,1161.3" fill="none" stroke="#00a0ff" stroke-width="6" stroke-linejoin="round" stroke-linecap="round"/>
<polygon points="1095.2,1157.4 1099.7,1149.7 1104.3,1074.3 1108.9,1098.8 1113.5,1107.2 1118.1,1083.8 1122.7,1102.1 1127.2,1137.1 1131.8,1137.6 1136.4,1079.6 1141.0,1137.5 1145.6,1080.0 1150.2,1126.7 1154.8,1064.9 1159.3,1093.7 1163.9,1143.7 1168.5,1157.7 1173.1,1148.2 1177.7,1157.2 1182.3,1105.5 1186.8,1072.3 1191.4,1134.6 1196.0,1144.0 1200.6,1143.1 1205.2,1148.7 1209.8,1150.3 1214.3,1070.6 1218.9,1075.6 1223.5,1142.7 1228.1,1147.2 1232.7,1102.9 1237.3,1111.1 1241.8,1136.8 1246.4,1116.6 1251.0,1146.8 1255.6,1061.8 1260.2,1123.8 1264.8,1150.2 1269.4,1088.4 1273.9,1056.4 1278.5,1103.2 1283.1,1108.2 1287.7,1107.6 1292.3,1134.8 1296.9,1128.4 1301.4,1136.8 1306.0,1129.6 1310.6,1146.0 1315.2,1114.4 1319.8,1152.7 1324.4,1145.8 1328.9,1137.6 1333.5,1073.4 1338.1,1072.1 1342.7,1109.0 1347.3,1090.9 1351.9,1138.3 1356.4,1124.0 1361.0,1091.5 1365.6,1128.0 1370.2,1106.0 1374.8,1100.6 1379.4,1145.5 1384.0,1155.0 1388.5,1144.1 1393.1,1146.1 1397.7,1147.2 1402.3,1091.0 1406.9,1140.7 1411.5,1129.7 1416.0,1114.0 1420.6,1052.2 1425.2,1094.6 1429.8,1100.4 1434.4,1120.6 1439.0,1115.0 1443.5,1010.0 1448.1,1112.4 1452.7,1093.8 1457.3,1059.6 1461.9,1047.0 1466.5,1123.3 1471.0,1138.7 1475.6,1127.3 1480.2,1117.7 1484.8,1125.6 1489.4,1050.1 1494.0,1088.0 1498.6,1125.2 1503.1,1033.8 1507.7,1083.8 1512.3,1120.3 1516.9,1119.9 1521.5,1098.4 1526.1,1072.2 1530.6,1039.6 1535.2,1110.2 1539.8,1047.7 1544.4,1073.8 1549.0,1084.2 1553.6,1146.7 1558.1,1149.6 1562.7,1056.9 1567.3,1101.8 1571.9,1141.7 1576.5,1141.0 1581.1,1077.9 1585.6,1091.4 1590.2,1064.1 1594.8,1146.3 1599.4,1082.0 1604.0,1092.4 1608.6,1058.4 1613.2,1116.5 1617.7,1074.5 1622.3,1132.3 1626.9,1047.0 1631.5,1111.9 1636.1,1138.0 1640.7,1105.6 1645.2,1088.3 1649.8,1104.9 1654.4,1130.7 1659.0,1113.2 1663.6,1126.3 1668.2,1056.1 1672.7,1099.9 1677.3,1060.7 1681.9,1095.8 1686.5,1101.3 1691.1,1066.8 1695.7,1097.9 1700.2,1053.7 1704.8,1001.2 1709.4,1066.1 1714.0,1015.3 1718.6,1069.7 1723.2,1055.5 1727.8,1050.2 1732.3,1033.6 1736.9,1098.3 1741.5,1074.0 1746.1,1111.4 1750.7,978.0 1755.3,1085.3 1759.8,1027.7 1764.4,1122.6 1769.0,1072.4 1773.6,1064.8 1778.2,1105.5 1782.8,1104.0 1787.3,1026.7 1791.9,1053.0 1796.5,1010.0 1801.1,1086.2 1805.7,1063.4 1810.3,988.3 1814.8,1040.0 1819.4,1043.1 1824.0,1043.0 1828.6,1013.7 1833.2,1042.0 1837.8,944.0 1842.4,1047.6 1846.9,1072.0 1851.3,963.0 1851.3,1216.0 1846.9,1214.5 1842.4,1180.1 1837.8,1203.1 1833.2,1196.1 1828.6,1209.2 1824.0,1249.2 1819.4,1193.9 1814.8,1231.3 1810.3,1219.7 1805.7,1209.6 1801.1,1243.0 1796.5,1204.1 1791.9,1228.2 1787.3,1244.4 1782.8,1249.8 1778.2,1270.1 1773.6,1274.2 1769.0,1247.5 1764.4,1270.6 1759.8,1241.2 1755.3,1222.5 1750.7,1236.6 1746.1,1233.3 1741.5,1241.8 1736.9,1267.4 1732.3,1269.5 1727.8,1223.6 1723.2,1246.8 1718.6,1229.5 1714.0,1258.9 1709.4,1235.9 1704.8,1227.1 1700.2,1211.8 1695.7,1255.9 1691.1,1253.9 1686.5,1264.1 1681.9,1243.3 1677.3,1255.3 1672.7,1273.7 1668.2,1289.1 1663.6,1244.2 1659.0,1342.0 1654.4,1274.6 1649.8,1245.1 1645.2,1285.2 1640.7,1281.8 1636.1,1294.6 1631.5,1255.4 1626.9,1345.0 1622.3,1279.0 1617.7,1248.0 1613.2,1239.9 1608.6,1264.1 1604.0,1269.0 1599.4,1258.7 1594.8,1286.2 1590.2,1289.0 1585.6,1276.3 1581.1,1259.9 1576.5,1263.4 1571.9,1289.1 1567.3,1266.5 1562.7,1291.6 1558.1,1289.4 1553.6,1265.5 1549.0,1253.9 1544.4,1264.7 1539.8,1250.8 1535.2,1284.4 1530.6,1251.9 1526.1,1249.7 1521.5,1243.0 1516.9,1238.8 1512.3,1238.9 1507.7,1233.9 1503.1,1239.5 1498.6,1270.5 1494.0,1260.7 1489.4,1240.2 1484.8,1239.8 1480.2,1277.8 1475.6,1261.7 1471.0,1276.6 1466.5,1285.0 1461.9,1270.1 1457.3,1259.5 1452.7,1230.5 1448.1,1256.0 1443.5,1272.9 1439.0,1239.7 1434.4,1235.2 1429.8,1254.4 1425.2,1271.3 1420.6,1273.4 1416.0,1269.6 1411.5,1284.0 1406.9,1295.4 1402.3,1263.2 1397.7,1305.8 1393.1,1309.2 1388.5,1316.6 1384.0,1276.9 1379.4,1287.9 1374.8,1291.0 1370.2,1242.6 1365.6,1248.8 1361.0,1265.7 1356.4,1255.6 1351.9,1252.8 1347.3,1294.7 1342.7,1285.8 1338.1,1304.2 1333.5,1278.8 1328.9,1264.0 1324.4,1271.4 1319.8,1269.4 1315.2,1278.2 1310.6,1249.2 1306.0,1294.4 1301.4,1264.0 1296.9,1280.8 1292.3,1287.8 1287.7,1284.6 1283.1,1279.9 1278.5,1271.8 1273.9,1290.8 1269.4,1279.1 1264.8,1268.9 1260.2,1301.2 1255.6,1260.8 1251.0,1253.9 1246.4,1297.8 1241.8,1283.0 1237.3,1261.5 1232.7,1281.8 1228.1,1300.1 1223.5,1271.4 1218.9,1272.1 1214.3,1297.5 1209.8,1250.9 1205.2,1262.7 1200.6,1253.7 1196.0,1253.3 1191.4,1335.0 1186.8,1332.8 1182.3,1288.0 1177.7,1296.4 1173.1,1266.5 1168.5,1342.0 1163.9,1264.6 1159.3,1272.6 1154.8,1262.3 1150.2,1268.2 1145.6,1272.9 1141.0,1243.2 1136.4,1260.6 1131.8,1292.0 1127.2,1272.6 1122.7,1287.4 1118.1,1304.3 1113.5,1281.5 1108.9,1259.2 1104.3,1281.3 1099.7,1302.9 1095.2,1281.0" fill="#ff0000" fill-opacity="0.3"/>
<polyline points="1094.8,1204.8 1103.2,1201.2 1112.8,1204.8 1118.8,1196.4 1124.8,1196.4 1133.2,1186.8 1141.6,1184.4 1150.0,1195.2 1158.4,1203.6 1166.8,1214.4 1174.0,1207.2 1182.4,1206.0 1187.2,1197.6 1194.4,1195.2 1205.2,1198.8 1213.6,1197.6 1219.6,1206.0 1226.8,1207.2 1235.2,1197.6 1244.8,1201.2 1252.0,1194.0 1264.0,1201.2 1270.0,1190.4 1279.6,1195.2 1284.8,1182.0 1296.8,1183.2 1307.6,1188.0 1311.2,1196.4 1320.8,1201.2 1325.6,1204.8 1332.8,1195.2 1338.8,1198.8 1349.6,1188.0 1356.8,1183.2 1361.6,1178.4 1371.2,1191.6 1377.2,1197.6 1388.0,1207.2 1395.2,1201.2 1406.0,1190.4 1415.6,1185.6 1425.2,1178.4 1430.0,1182.0 1436.0,1172.4 1443.2,1166.4 1448.0,1168.8 1452.8,1164.0 1461.2,1183.2 1467.2,1186.8 1480.8,1189.2 1485.6,1184.4 1491.6,1186.8 1498.8,1189.2 1508.4,1178.4 1516.8,1173.6 1521.6,1161.6 1527.6,1170.0 1533.6,1171.2 1539.6,1182.0 1544.4,1192.8 1552.8,1195.2 1558.8,1202.4 1566.0,1197.6 1573.2,1192.8 1585.2,1188.0 1594.8,1196.4 1602.0,1190.4 1617.6,1179.6 1626.0,1185.6 1636.8,1189.2 1645.2,1183.2 1653.6,1191.6 1662.0,1189.2 1668.0,1192.0 1674.7,1181.3 1680.0,1172.0 1686.7,1158.7 1693.3,1164.0 1701.3,1154.7 1709.3,1161.3 1714.7,1157.3 1724.0,1161.3 1729.3,1172.0 1732.7,1182.7 1737.3,1170.7 1746.7,1165.3 1756.0,1160.0 1764.0,1178.7 1774.7,1172.0 1785.3,1156.0 1794.7,1148.0 1805.3,1145.3 1816.0,1133.3 1822.7,1129.3 1829.3,1117.3 1833.3,1122.7 1841.3,1122.7 1846.7,1133.3" fill="none" stroke="#f03232" stroke-width="6" stroke-linejoin="round" stroke-linecap="round"/>
<polyline points="1094.8,1101.6 1096.0,1116.0 1097.8,1152.0 1100.8,1136.4 1103.2,1132.8 1108.0,1138.8 1112.8,1119.6 1117.6,1120.8 1122.4,1130.4 1129.6,1141.2 1135.0,1168.8 1139.2,1148.4 1145.2,1141.2 1150.0,1132.8 1154.8,1132.8 1158.4,1124.4 1163.2,1134.0 1169.2,1161.6 1172.8,1179.6 1177.6,1183.2 1181.2,1194.0 1186.0,1184.4 1193.2,1156.8 1198.0,1152.0 1204.0,1140.0 1212.4,1150.8 1218.4,1143.6 1223.2,1147.2 1231.6,1135.2 1237.6,1140.0 1241.2,1149.6 1246.0,1153.2 1250.8,1165.2 1258.0,1178.4 1264.0,1170.0 1272.4,1156.8 1277.2,1160.4 1282.0,1149.6 1292.0,1161.6 1300.4,1183.2 1308.8,1215.6 1314.8,1214.4 1320.8,1204.8 1326.8,1185.6 1332.8,1171.2 1337.6,1176.0 1342.4,1172.4 1347.2,1167.6 1356.8,1168.8 1361.6,1171.2 1367.6,1182.0 1371.2,1186.8 1378.4,1189.2 1383.2,1194.0 1388.0,1186.8 1395.2,1192.8 1401.2,1206.0 1406.0,1198.8 1412.0,1201.2 1415.6,1190.4 1420.4,1194.0 1425.2,1191.6 1432.4,1201.2 1437.2,1214.4 1443.2,1216.8 1451.6,1220.4 1461.2,1233.6 1469.6,1225.2 1476.0,1224.0 1484.4,1212.0 1489.2,1220.4 1495.2,1214.4 1503.6,1192.8 1508.4,1194.0 1516.8,1182.0 1525.2,1189.2 1530.0,1188.0 1536.0,1196.4 1540.8,1208.4 1544.4,1209.6 1552.8,1225.2 1558.8,1218.0 1564.8,1200.0 1572.0,1198.8 1576.8,1182.0 1580.4,1183.2 1585.2,1197.6 1590.0,1198.8 1594.8,1191.6 1599.6,1201.2 1605.6,1197.6 1609.2,1186.8 1614.0,1192.8 1618.8,1190.4 1626.0,1171.2 1630.8,1171.2 1636.8,1164.0 1641.6,1161.6 1646.4,1147.2 1653.6,1134.0 1659.6,1114.8 1663.2,1106.4 1668.0,1114.7 1673.3,1130.7 1680.0,1153.3 1686.7,1165.3 1690.7,1174.7 1697.3,1153.3 1705.3,1124.0 1713.3,1084.0 1724.0,1073.3 1728.0,1076.0 1736.0,1097.3 1740.0,1100.0 1748.0,1104.0 1753.3,1102.7 1764.0,1090.7 1777.3,1102.7 1788.0,1096.0 1796.0,1092.0 1804.0,1080.0 1813.3,1072.0 1820.0,1057.3 1828.0,1062.7 1833.3,1069.3 1841.3,1090.7 1845.3,1112.0 1848.0,1130.7" fill="none" stroke="#000" stroke-width="7" stroke-linejoin="round" stroke-linecap="round"/>
</g>
<line x1="1094.5" y1="907.7" x2="1094.5" y2="1410.0" stroke="#000" stroke-width="1.6" />
<line x1="1851.3" y1="907.7" x2="1851.3" y2="1410.0" stroke="#000" stroke-width="1.6" />
<line x1="1093.7" y1="1410.0" x2="1852.1" y2="1410.0" stroke="#000" stroke-width="1.6" />
<line x1="1085.0" y1="924.7" x2="1094.5" y2="924.7" stroke="#000" stroke-width="1.6" />
<text x="1078.3" y="933.0" font-size="26.5" text-anchor="end" font-weight="normal" fill="#000" >-4</text>
<line x1="1085.0" y1="1053.9" x2="1094.5" y2="1053.9" stroke="#000" stroke-width="1.6" />
<text x="1078.3" y="1062.2" font-size="26.5" text-anchor="end" font-weight="normal" fill="#000" >-2</text>
<line x1="1085.0" y1="1183.1" x2="1094.5" y2="1183.1" stroke="#000" stroke-width="1.6" />
<text x="1078.3" y="1191.4" font-size="26.5" text-anchor="end" font-weight="normal" fill="#000" >0</text>
<line x1="1085.0" y1="1312.3" x2="1094.5" y2="1312.3" stroke="#000" stroke-width="1.6" />
<text x="1078.3" y="1320.6" font-size="26.5" text-anchor="end" font-weight="normal" fill="#000" >2</text>
<line x1="1089.5" y1="989.3" x2="1094.5" y2="989.3" stroke="#000" stroke-width="1.6" />
<line x1="1089.5" y1="1118.5" x2="1094.5" y2="1118.5" stroke="#000" stroke-width="1.6" />
<line x1="1089.5" y1="1247.7" x2="1094.5" y2="1247.7" stroke="#000" stroke-width="1.6" />
<line x1="1089.5" y1="1376.9" x2="1094.5" y2="1376.9" stroke="#000" stroke-width="1.6" />
<line x1="1841.3" y1="958.0" x2="1851.3" y2="958.0" stroke="#000" stroke-width="1.6" />
<text x="1861.2" y="966.3" font-size="26.5" text-anchor="start" font-weight="normal" fill="#000" >4</text>
<line x1="1841.3" y1="1058.5" x2="1851.3" y2="1058.5" stroke="#000" stroke-width="1.6" />
<text x="1861.2" y="1066.8" font-size="26.5" text-anchor="start" font-weight="normal" fill="#000" >2</text>
<line x1="1841.3" y1="1159.0" x2="1851.3" y2="1159.0" stroke="#000" stroke-width="1.6" />
<text x="1861.2" y="1167.3" font-size="26.5" text-anchor="start" font-weight="normal" fill="#000" >0</text>
<line x1="1841.3" y1="1259.5" x2="1851.3" y2="1259.5" stroke="#000" stroke-width="1.6" />
<text x="1861.2" y="1267.8" font-size="26.5" text-anchor="start" font-weight="normal" fill="#000" >-2</text>
<line x1="1841.3" y1="1360.0" x2="1851.3" y2="1360.0" stroke="#000" stroke-width="1.6" />
<text x="1861.2" y="1368.3" font-size="26.5" text-anchor="start" font-weight="normal" fill="#000" >-4</text>
<line x1="1846.3" y1="907.8" x2="1851.3" y2="907.8" stroke="#000" stroke-width="1.6" />
<line x1="1846.3" y1="1008.2" x2="1851.3" y2="1008.2" stroke="#000" stroke-width="1.6" />
<line x1="1846.3" y1="1108.8" x2="1851.3" y2="1108.8" stroke="#000" stroke-width="1.6" />
<line x1="1846.3" y1="1209.2" x2="1851.3" y2="1209.2" stroke="#000" stroke-width="1.6" />
<line x1="1846.3" y1="1309.8" x2="1851.3" y2="1309.8" stroke="#000" stroke-width="1.6" />
<line x1="1846.3" y1="1410.2" x2="1851.3" y2="1410.2" stroke="#000" stroke-width="1.6" />
<line x1="1141.0" y1="1410.0" x2="1141.0" y2="1420.5" stroke="#000" stroke-width="1.6" />
<text x="1141.0" y="1448.6" font-size="26.5" text-anchor="middle" font-weight="normal" fill="#000" >1860</text>
<line x1="1232.7" y1="1410.0" x2="1232.7" y2="1420.5" stroke="#000" stroke-width="1.6" />
<text x="1232.7" y="1448.6" font-size="26.5" text-anchor="middle" font-weight="normal" fill="#000" >1880</text>
<line x1="1324.4" y1="1410.0" x2="1324.4" y2="1420.5" stroke="#000" stroke-width="1.6" />
<text x="1324.4" y="1448.6" font-size="26.5" text-anchor="middle" font-weight="normal" fill="#000" >1900</text>
<line x1="1416.0" y1="1410.0" x2="1416.0" y2="1420.5" stroke="#000" stroke-width="1.6" />
<text x="1416.0" y="1448.6" font-size="26.5" text-anchor="middle" font-weight="normal" fill="#000" >1920</text>
<line x1="1507.7" y1="1410.0" x2="1507.7" y2="1420.5" stroke="#000" stroke-width="1.6" />
<text x="1507.7" y="1448.6" font-size="26.5" text-anchor="middle" font-weight="normal" fill="#000" >1940</text>
<line x1="1599.4" y1="1410.0" x2="1599.4" y2="1420.5" stroke="#000" stroke-width="1.6" />
<text x="1599.4" y="1448.6" font-size="26.5" text-anchor="middle" font-weight="normal" fill="#000" >1960</text>
<line x1="1691.1" y1="1410.0" x2="1691.1" y2="1420.5" stroke="#000" stroke-width="1.6" />
<text x="1691.1" y="1448.6" font-size="26.5" text-anchor="middle" font-weight="normal" fill="#000" >1980</text>
<line x1="1782.8" y1="1410.0" x2="1782.8" y2="1420.5" stroke="#000" stroke-width="1.6" />
<text x="1782.8" y="1448.6" font-size="26.5" text-anchor="middle" font-weight="normal" fill="#000" >2000</text>
<line x1="1094.5" y1="1410.0" x2="1094.5" y2="1415.5" stroke="#000" stroke-width="1.6" />
<line x1="1186.8" y1="1410.0" x2="1186.8" y2="1415.5" stroke="#000" stroke-width="1.6" />
<line x1="1278.5" y1="1410.0" x2="1278.5" y2="1415.5" stroke="#000" stroke-width="1.6" />
<line x1="1370.2" y1="1410.0" x2="1370.2" y2="1415.5" stroke="#000" stroke-width="1.6" />
<line x1="1461.9" y1="1410.0" x2="1461.9" y2="1415.5" stroke="#000" stroke-width="1.6" />
<line x1="1553.6" y1="1410.0" x2="1553.6" y2="1415.5" stroke="#000" stroke-width="1.6" />
<line x1="1645.2" y1="1410.0" x2="1645.2" y2="1415.5" stroke="#000" stroke-width="1.6" />
<line x1="1736.9" y1="1410.0" x2="1736.9" y2="1415.5" stroke="#000" stroke-width="1.6" />
<line x1="1828.6" y1="1410.0" x2="1828.6" y2="1415.5" stroke="#000" stroke-width="1.6" />
<text x="1473.1" y="1491.3" font-size="26.5" text-anchor="middle" font-weight="normal" fill="#000" letter-spacing="0.35" >Year (CE)</text>
<text transform="translate(1041,1142.6) rotate(-90)" font-size="26.5" text-anchor="middle">P-PET</text>
<text transform="translate(1932.5,1158.5) rotate(-90)" font-size="26.5" text-anchor="middle">Onça2 <tspan font-family="Liberation Serif, serif">δ</tspan><tspan font-size="18.5" dy="-11">18</tspan><tspan dy="11">O (z-score)</tspan></text>
<text x="1000.0" y="901.3" font-size="49" text-anchor="start" font-weight="normal" fill="#000" >d)</text>
<line x1="1115.5" y1="818" x2="1158.5" y2="818" stroke="#0b5a0b" stroke-width="5.8" stroke-linecap="round"/>
<text x="1164.5" y="824.5" font-size="19.5" text-anchor="start" font-weight="normal" fill="#000" >P-PET GHG+NAT</text>
<line x1="1115.5" y1="842.4" x2="1158.5" y2="842.4" stroke="#00a0ff" stroke-width="5.8" stroke-linecap="round"/>
<text x="1164.5" y="848.9" font-size="19.5" text-anchor="start" font-weight="normal" fill="#000" >P-PET NAT</text>
<line x1="1115.5" y1="866.6" x2="1158.5" y2="866.6" stroke="#ff4a4a" stroke-width="5.8" stroke-linecap="round"/>
<text x="1164.5" y="873.1" font-size="19.5" text-anchor="start" font-weight="normal" fill="#000" >P-PET GHG</text>
<line x1="1115.5" y1="893.4" x2="1158.5" y2="893.4" stroke="#000" stroke-width="5.8" stroke-linecap="round"/>
<text x="1164.5" y="899.9" font-size="19.5" text-anchor="start" font-weight="normal" fill="#000" >Onça2 <tspan font-family="Liberation Serif, serif">δ</tspan><tspan font-size="13.5" dy="-8">18</tspan><tspan dy="8">O</tspan></text>
<rect x="1379.1" y="809.2" width="40.40000000000009" height="18.299999999999955" fill="#005f00" fill-opacity="0.3"/>
<text x="1427.0" y="825.4" font-size="19.5" text-anchor="start" font-weight="normal" fill="#000" >GHG+NAT 5-95 %</text>
<rect x="1379.1" y="833.2" width="40.40000000000009" height="18.5" fill="#00a0ff" fill-opacity="0.3"/>
<text x="1427.0" y="849.5" font-size="19.5" text-anchor="start" font-weight="normal" fill="#000" >NAT 5-95 %</text>
<rect x="1379.1" y="857.4" width="40.40000000000009" height="18.200000000000045" fill="#ff0000" fill-opacity="0.3"/>
<text x="1427.0" y="873.5" font-size="19.5" text-anchor="start" font-weight="normal" fill="#000" >GHG 5-95 %</text>
<path d="M1984.2 955.8 L1993.6 918.7 L2002.9 955.8 Z" fill="#ff0000"/>
<rect x="1991.15" y="955.3" width="4.9" height="122.2" fill="#ff0000"/>
<text transform="translate(1982.7,1008.7) rotate(-90)" font-size="31.5" font-weight="bold" fill="#ff0000" text-anchor="middle">Dry</text>
<rect x="1991.15" y="1256.0" width="4.9" height="121.9" fill="#0000ff"/>
<path d="M1984.2 1377.4 L1993.6 1414.8 L2002.9 1377.4 Z" fill="#0000ff"/>
<text transform="translate(1982.1,1322) rotate(-90)" font-size="31.5" font-weight="bold" fill="#0000ff" text-anchor="middle">Wet</text>
</g></svg>
</body></html>
